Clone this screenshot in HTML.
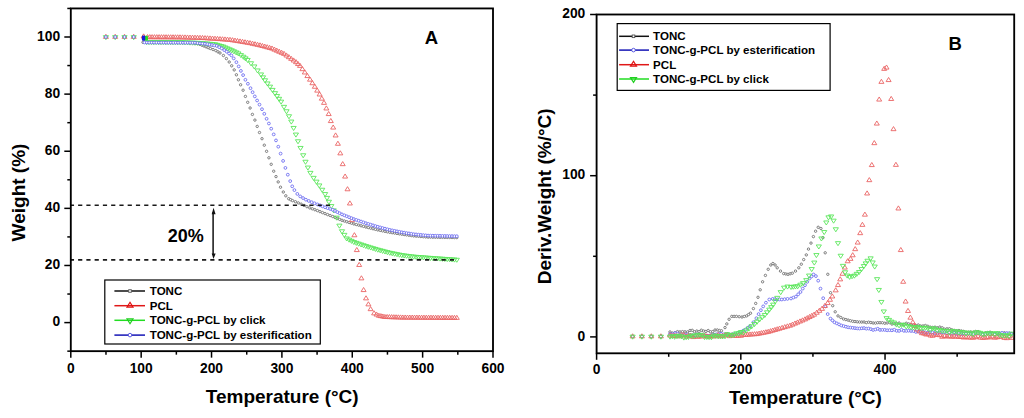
<!DOCTYPE html>
<html><head><meta charset="utf-8"><title>TGA</title>
<style>html,body{margin:0;padding:0;background:#fff;width:1024px;height:418px;overflow:hidden}svg{display:block}</style>
</head><body>
<svg width="1024" height="418" viewBox="0 0 1024 418"><rect width="1024" height="418" fill="#fff"/><g><circle cx="105.90" cy="37.00" r="1.2" fill="#fff" stroke="#707070" stroke-width="0.9"/><circle cx="115.20" cy="37.00" r="1.2" fill="#fff" stroke="#707070" stroke-width="0.9"/><circle cx="124.50" cy="37.00" r="1.2" fill="#fff" stroke="#707070" stroke-width="0.9"/><circle cx="133.70" cy="37.00" r="1.2" fill="#fff" stroke="#707070" stroke-width="0.9"/><circle cx="143.00" cy="42.30" r="1.2" fill="#fff" stroke="#707070" stroke-width="0.9"/><circle cx="145.33" cy="42.31" r="1.2" fill="#fff" stroke="#707070" stroke-width="0.9"/><circle cx="147.67" cy="42.33" r="1.2" fill="#fff" stroke="#707070" stroke-width="0.9"/><circle cx="150.00" cy="42.34" r="1.2" fill="#fff" stroke="#707070" stroke-width="0.9"/><circle cx="152.33" cy="42.36" r="1.2" fill="#fff" stroke="#707070" stroke-width="0.9"/><circle cx="154.67" cy="42.37" r="1.2" fill="#fff" stroke="#707070" stroke-width="0.9"/><circle cx="157.00" cy="42.39" r="1.2" fill="#fff" stroke="#707070" stroke-width="0.9"/><circle cx="159.33" cy="42.40" r="1.2" fill="#fff" stroke="#707070" stroke-width="0.9"/><circle cx="161.67" cy="42.41" r="1.2" fill="#fff" stroke="#707070" stroke-width="0.9"/><circle cx="164.00" cy="42.43" r="1.2" fill="#fff" stroke="#707070" stroke-width="0.9"/><circle cx="166.33" cy="42.44" r="1.2" fill="#fff" stroke="#707070" stroke-width="0.9"/><circle cx="168.67" cy="42.46" r="1.2" fill="#fff" stroke="#707070" stroke-width="0.9"/><circle cx="171.00" cy="42.47" r="1.2" fill="#fff" stroke="#707070" stroke-width="0.9"/><circle cx="173.33" cy="42.49" r="1.2" fill="#fff" stroke="#707070" stroke-width="0.9"/><circle cx="175.67" cy="42.50" r="1.2" fill="#fff" stroke="#707070" stroke-width="0.9"/><circle cx="178.00" cy="42.51" r="1.2" fill="#fff" stroke="#707070" stroke-width="0.9"/><circle cx="180.33" cy="42.53" r="1.2" fill="#fff" stroke="#707070" stroke-width="0.9"/><circle cx="182.67" cy="42.54" r="1.2" fill="#fff" stroke="#707070" stroke-width="0.9"/><circle cx="185.00" cy="42.56" r="1.2" fill="#fff" stroke="#707070" stroke-width="0.9"/><circle cx="187.33" cy="42.57" r="1.2" fill="#fff" stroke="#707070" stroke-width="0.9"/><circle cx="189.67" cy="42.59" r="1.2" fill="#fff" stroke="#707070" stroke-width="0.9"/><circle cx="192.00" cy="42.60" r="1.2" fill="#fff" stroke="#707070" stroke-width="0.9"/><circle cx="194.00" cy="42.93" r="1.2" fill="#fff" stroke="#707070" stroke-width="0.9"/><circle cx="196.00" cy="43.27" r="1.2" fill="#fff" stroke="#707070" stroke-width="0.9"/><circle cx="198.00" cy="43.60" r="1.2" fill="#fff" stroke="#707070" stroke-width="0.9"/><circle cx="200.00" cy="44.40" r="1.2" fill="#fff" stroke="#707070" stroke-width="0.9"/><circle cx="202.00" cy="45.20" r="1.2" fill="#fff" stroke="#707070" stroke-width="0.9"/><circle cx="204.00" cy="46.00" r="1.2" fill="#fff" stroke="#707070" stroke-width="0.9"/><circle cx="206.10" cy="46.83" r="1.2" fill="#fff" stroke="#707070" stroke-width="0.9"/><circle cx="208.20" cy="47.67" r="1.2" fill="#fff" stroke="#707070" stroke-width="0.9"/><circle cx="210.30" cy="48.50" r="1.2" fill="#fff" stroke="#707070" stroke-width="0.9"/><circle cx="213.05" cy="49.55" r="1.2" fill="#fff" stroke="#707070" stroke-width="0.9"/><circle cx="215.80" cy="50.60" r="1.2" fill="#fff" stroke="#707070" stroke-width="0.9"/><circle cx="217.90" cy="51.80" r="1.2" fill="#fff" stroke="#707070" stroke-width="0.9"/><circle cx="220.00" cy="53.00" r="1.2" fill="#fff" stroke="#707070" stroke-width="0.9"/><circle cx="223.40" cy="55.50" r="1.2" fill="#fff" stroke="#707070" stroke-width="0.9"/><circle cx="226.40" cy="58.60" r="1.2" fill="#fff" stroke="#707070" stroke-width="0.9"/><circle cx="229.20" cy="62.00" r="1.2" fill="#fff" stroke="#707070" stroke-width="0.9"/><circle cx="231.70" cy="65.80" r="1.2" fill="#fff" stroke="#707070" stroke-width="0.9"/><circle cx="234.20" cy="69.90" r="1.2" fill="#fff" stroke="#707070" stroke-width="0.9"/><circle cx="236.40" cy="74.80" r="1.2" fill="#fff" stroke="#707070" stroke-width="0.9"/><circle cx="238.40" cy="79.80" r="1.2" fill="#fff" stroke="#707070" stroke-width="0.9"/><circle cx="240.60" cy="84.80" r="1.2" fill="#fff" stroke="#707070" stroke-width="0.9"/><circle cx="243.10" cy="90.20" r="1.2" fill="#fff" stroke="#707070" stroke-width="0.9"/><circle cx="245.40" cy="96.40" r="1.2" fill="#fff" stroke="#707070" stroke-width="0.9"/><circle cx="247.70" cy="102.30" r="1.2" fill="#fff" stroke="#707070" stroke-width="0.9"/><circle cx="250.10" cy="108.00" r="1.2" fill="#fff" stroke="#707070" stroke-width="0.9"/><circle cx="252.40" cy="114.40" r="1.2" fill="#fff" stroke="#707070" stroke-width="0.9"/><circle cx="254.90" cy="120.10" r="1.2" fill="#fff" stroke="#707070" stroke-width="0.9"/><circle cx="257.20" cy="126.40" r="1.2" fill="#fff" stroke="#707070" stroke-width="0.9"/><circle cx="259.50" cy="132.50" r="1.2" fill="#fff" stroke="#707070" stroke-width="0.9"/><circle cx="262.00" cy="138.70" r="1.2" fill="#fff" stroke="#707070" stroke-width="0.9"/><circle cx="264.30" cy="145.20" r="1.2" fill="#fff" stroke="#707070" stroke-width="0.9"/><circle cx="266.60" cy="151.30" r="1.2" fill="#fff" stroke="#707070" stroke-width="0.9"/><circle cx="268.90" cy="157.80" r="1.2" fill="#fff" stroke="#707070" stroke-width="0.9"/><circle cx="271.20" cy="164.30" r="1.2" fill="#fff" stroke="#707070" stroke-width="0.9"/><circle cx="273.70" cy="171.20" r="1.2" fill="#fff" stroke="#707070" stroke-width="0.9"/><circle cx="276.00" cy="176.60" r="1.2" fill="#fff" stroke="#707070" stroke-width="0.9"/><circle cx="278.20" cy="181.90" r="1.2" fill="#fff" stroke="#707070" stroke-width="0.9"/><circle cx="280.50" cy="187.20" r="1.2" fill="#fff" stroke="#707070" stroke-width="0.9"/><circle cx="283.30" cy="192.00" r="1.2" fill="#fff" stroke="#707070" stroke-width="0.9"/><circle cx="285.80" cy="195.80" r="1.2" fill="#fff" stroke="#707070" stroke-width="0.9"/><circle cx="288.70" cy="198.70" r="1.2" fill="#fff" stroke="#707070" stroke-width="0.9"/><circle cx="290.60" cy="199.65" r="1.2" fill="#fff" stroke="#707070" stroke-width="0.9"/><circle cx="292.50" cy="200.60" r="1.2" fill="#fff" stroke="#707070" stroke-width="0.9"/><circle cx="295.40" cy="201.75" r="1.2" fill="#fff" stroke="#707070" stroke-width="0.9"/><circle cx="298.30" cy="202.90" r="1.2" fill="#fff" stroke="#707070" stroke-width="0.9"/><circle cx="301.15" cy="204.15" r="1.2" fill="#fff" stroke="#707070" stroke-width="0.9"/><circle cx="304.00" cy="205.40" r="1.2" fill="#fff" stroke="#707070" stroke-width="0.9"/><circle cx="306.90" cy="206.65" r="1.2" fill="#fff" stroke="#707070" stroke-width="0.9"/><circle cx="309.80" cy="207.90" r="1.2" fill="#fff" stroke="#707070" stroke-width="0.9"/><circle cx="312.33" cy="208.80" r="1.2" fill="#fff" stroke="#707070" stroke-width="0.9"/><circle cx="314.87" cy="209.70" r="1.2" fill="#fff" stroke="#707070" stroke-width="0.9"/><circle cx="317.40" cy="210.60" r="1.2" fill="#fff" stroke="#707070" stroke-width="0.9"/><circle cx="319.93" cy="211.60" r="1.2" fill="#fff" stroke="#707070" stroke-width="0.9"/><circle cx="322.47" cy="212.60" r="1.2" fill="#fff" stroke="#707070" stroke-width="0.9"/><circle cx="325.00" cy="213.60" r="1.2" fill="#fff" stroke="#707070" stroke-width="0.9"/><circle cx="327.57" cy="214.57" r="1.2" fill="#fff" stroke="#707070" stroke-width="0.9"/><circle cx="330.13" cy="215.53" r="1.2" fill="#fff" stroke="#707070" stroke-width="0.9"/><circle cx="332.70" cy="216.50" r="1.2" fill="#fff" stroke="#707070" stroke-width="0.9"/><circle cx="335.02" cy="217.45" r="1.2" fill="#fff" stroke="#707070" stroke-width="0.9"/><circle cx="337.35" cy="218.40" r="1.2" fill="#fff" stroke="#707070" stroke-width="0.9"/><circle cx="339.68" cy="219.35" r="1.2" fill="#fff" stroke="#707070" stroke-width="0.9"/><circle cx="342.00" cy="220.30" r="1.2" fill="#fff" stroke="#707070" stroke-width="0.9"/><circle cx="344.38" cy="221.02" r="1.2" fill="#fff" stroke="#707070" stroke-width="0.9"/><circle cx="346.76" cy="221.74" r="1.2" fill="#fff" stroke="#707070" stroke-width="0.9"/><circle cx="349.14" cy="222.46" r="1.2" fill="#fff" stroke="#707070" stroke-width="0.9"/><circle cx="351.52" cy="223.18" r="1.2" fill="#fff" stroke="#707070" stroke-width="0.9"/><circle cx="353.90" cy="223.90" r="1.2" fill="#fff" stroke="#707070" stroke-width="0.9"/><circle cx="356.30" cy="224.52" r="1.2" fill="#fff" stroke="#707070" stroke-width="0.9"/><circle cx="358.70" cy="225.14" r="1.2" fill="#fff" stroke="#707070" stroke-width="0.9"/><circle cx="361.10" cy="225.76" r="1.2" fill="#fff" stroke="#707070" stroke-width="0.9"/><circle cx="363.50" cy="226.38" r="1.2" fill="#fff" stroke="#707070" stroke-width="0.9"/><circle cx="365.90" cy="227.00" r="1.2" fill="#fff" stroke="#707070" stroke-width="0.9"/><circle cx="368.28" cy="227.58" r="1.2" fill="#fff" stroke="#707070" stroke-width="0.9"/><circle cx="370.66" cy="228.16" r="1.2" fill="#fff" stroke="#707070" stroke-width="0.9"/><circle cx="373.04" cy="228.74" r="1.2" fill="#fff" stroke="#707070" stroke-width="0.9"/><circle cx="375.42" cy="229.32" r="1.2" fill="#fff" stroke="#707070" stroke-width="0.9"/><circle cx="377.80" cy="229.90" r="1.2" fill="#fff" stroke="#707070" stroke-width="0.9"/><circle cx="380.20" cy="230.38" r="1.2" fill="#fff" stroke="#707070" stroke-width="0.9"/><circle cx="382.60" cy="230.86" r="1.2" fill="#fff" stroke="#707070" stroke-width="0.9"/><circle cx="385.00" cy="231.34" r="1.2" fill="#fff" stroke="#707070" stroke-width="0.9"/><circle cx="387.40" cy="231.82" r="1.2" fill="#fff" stroke="#707070" stroke-width="0.9"/><circle cx="389.80" cy="232.30" r="1.2" fill="#fff" stroke="#707070" stroke-width="0.9"/><circle cx="392.20" cy="232.68" r="1.2" fill="#fff" stroke="#707070" stroke-width="0.9"/><circle cx="394.60" cy="233.06" r="1.2" fill="#fff" stroke="#707070" stroke-width="0.9"/><circle cx="397.00" cy="233.44" r="1.2" fill="#fff" stroke="#707070" stroke-width="0.9"/><circle cx="399.40" cy="233.82" r="1.2" fill="#fff" stroke="#707070" stroke-width="0.9"/><circle cx="401.80" cy="234.20" r="1.2" fill="#fff" stroke="#707070" stroke-width="0.9"/><circle cx="404.18" cy="234.54" r="1.2" fill="#fff" stroke="#707070" stroke-width="0.9"/><circle cx="406.56" cy="234.88" r="1.2" fill="#fff" stroke="#707070" stroke-width="0.9"/><circle cx="408.94" cy="235.22" r="1.2" fill="#fff" stroke="#707070" stroke-width="0.9"/><circle cx="411.32" cy="235.56" r="1.2" fill="#fff" stroke="#707070" stroke-width="0.9"/><circle cx="413.70" cy="235.90" r="1.2" fill="#fff" stroke="#707070" stroke-width="0.9"/><circle cx="416.10" cy="236.10" r="1.2" fill="#fff" stroke="#707070" stroke-width="0.9"/><circle cx="418.50" cy="236.30" r="1.2" fill="#fff" stroke="#707070" stroke-width="0.9"/><circle cx="420.90" cy="236.50" r="1.2" fill="#fff" stroke="#707070" stroke-width="0.9"/><circle cx="423.30" cy="236.70" r="1.2" fill="#fff" stroke="#707070" stroke-width="0.9"/><circle cx="425.70" cy="236.90" r="1.2" fill="#fff" stroke="#707070" stroke-width="0.9"/><circle cx="428.10" cy="237.10" r="1.2" fill="#fff" stroke="#707070" stroke-width="0.9"/><circle cx="430.49" cy="237.14" r="1.2" fill="#fff" stroke="#707070" stroke-width="0.9"/><circle cx="432.88" cy="237.18" r="1.2" fill="#fff" stroke="#707070" stroke-width="0.9"/><circle cx="435.28" cy="237.22" r="1.2" fill="#fff" stroke="#707070" stroke-width="0.9"/><circle cx="437.67" cy="237.27" r="1.2" fill="#fff" stroke="#707070" stroke-width="0.9"/><circle cx="440.06" cy="237.31" r="1.2" fill="#fff" stroke="#707070" stroke-width="0.9"/><circle cx="442.45" cy="237.35" r="1.2" fill="#fff" stroke="#707070" stroke-width="0.9"/><circle cx="444.84" cy="237.39" r="1.2" fill="#fff" stroke="#707070" stroke-width="0.9"/><circle cx="447.23" cy="237.43" r="1.2" fill="#fff" stroke="#707070" stroke-width="0.9"/><circle cx="449.62" cy="237.47" r="1.2" fill="#fff" stroke="#707070" stroke-width="0.9"/><circle cx="452.02" cy="237.52" r="1.2" fill="#fff" stroke="#707070" stroke-width="0.9"/><circle cx="454.41" cy="237.56" r="1.2" fill="#fff" stroke="#707070" stroke-width="0.9"/><circle cx="456.80" cy="237.60" r="1.2" fill="#fff" stroke="#707070" stroke-width="0.9"/><path d="M105.90 34.27L108.40 38.37L103.40 38.37Z" fill="none" stroke="#ea6464" stroke-width="0.9"/><path d="M115.20 34.27L117.70 38.37L112.70 38.37Z" fill="none" stroke="#ea6464" stroke-width="0.9"/><path d="M124.50 34.27L127.00 38.37L122.00 38.37Z" fill="none" stroke="#ea6464" stroke-width="0.9"/><path d="M133.70 34.27L136.20 38.37L131.20 38.37Z" fill="none" stroke="#ea6464" stroke-width="0.9"/><path d="M147.50 34.57L150.00 38.67L145.00 38.67Z" fill="none" stroke="#ea6464" stroke-width="0.9"/><path d="M149.82 34.58L152.32 38.68L147.32 38.68Z" fill="none" stroke="#ea6464" stroke-width="0.9"/><path d="M152.14 34.60L154.64 38.70L149.64 38.70Z" fill="none" stroke="#ea6464" stroke-width="0.9"/><path d="M154.46 34.61L156.96 38.71L151.96 38.71Z" fill="none" stroke="#ea6464" stroke-width="0.9"/><path d="M156.79 34.62L159.29 38.72L154.29 38.72Z" fill="none" stroke="#ea6464" stroke-width="0.9"/><path d="M159.11 34.64L161.61 38.74L156.61 38.74Z" fill="none" stroke="#ea6464" stroke-width="0.9"/><path d="M161.43 34.65L163.93 38.75L158.93 38.75Z" fill="none" stroke="#ea6464" stroke-width="0.9"/><path d="M163.75 34.67L166.25 38.77L161.25 38.77Z" fill="none" stroke="#ea6464" stroke-width="0.9"/><path d="M166.07 34.68L168.57 38.78L163.57 38.78Z" fill="none" stroke="#ea6464" stroke-width="0.9"/><path d="M168.39 34.70L170.89 38.80L165.89 38.80Z" fill="none" stroke="#ea6464" stroke-width="0.9"/><path d="M170.71 34.71L173.21 38.81L168.21 38.81Z" fill="none" stroke="#ea6464" stroke-width="0.9"/><path d="M173.04 34.72L175.54 38.82L170.54 38.82Z" fill="none" stroke="#ea6464" stroke-width="0.9"/><path d="M175.36 34.74L177.86 38.84L172.86 38.84Z" fill="none" stroke="#ea6464" stroke-width="0.9"/><path d="M177.68 34.75L180.18 38.85L175.18 38.85Z" fill="none" stroke="#ea6464" stroke-width="0.9"/><path d="M180.00 34.77L182.50 38.87L177.50 38.87Z" fill="none" stroke="#ea6464" stroke-width="0.9"/><path d="M182.50 34.83L185.00 38.93L180.00 38.93Z" fill="none" stroke="#ea6464" stroke-width="0.9"/><path d="M185.00 34.89L187.50 38.99L182.50 38.99Z" fill="none" stroke="#ea6464" stroke-width="0.9"/><path d="M187.50 34.95L190.00 39.05L185.00 39.05Z" fill="none" stroke="#ea6464" stroke-width="0.9"/><path d="M190.00 35.02L192.50 39.12L187.50 39.12Z" fill="none" stroke="#ea6464" stroke-width="0.9"/><path d="M192.50 35.08L195.00 39.18L190.00 39.18Z" fill="none" stroke="#ea6464" stroke-width="0.9"/><path d="M195.00 35.14L197.50 39.24L192.50 39.24Z" fill="none" stroke="#ea6464" stroke-width="0.9"/><path d="M197.50 35.20L200.00 39.30L195.00 39.30Z" fill="none" stroke="#ea6464" stroke-width="0.9"/><path d="M200.00 35.27L202.50 39.37L197.50 39.37Z" fill="none" stroke="#ea6464" stroke-width="0.9"/><path d="M202.50 35.42L205.00 39.52L200.00 39.52Z" fill="none" stroke="#ea6464" stroke-width="0.9"/><path d="M205.00 35.57L207.50 39.67L202.50 39.67Z" fill="none" stroke="#ea6464" stroke-width="0.9"/><path d="M207.50 35.72L210.00 39.82L205.00 39.82Z" fill="none" stroke="#ea6464" stroke-width="0.9"/><path d="M210.00 35.87L212.50 39.97L207.50 39.97Z" fill="none" stroke="#ea6464" stroke-width="0.9"/><path d="M212.50 36.02L215.00 40.12L210.00 40.12Z" fill="none" stroke="#ea6464" stroke-width="0.9"/><path d="M215.00 36.17L217.50 40.27L212.50 40.27Z" fill="none" stroke="#ea6464" stroke-width="0.9"/><path d="M217.50 36.35L220.00 40.45L215.00 40.45Z" fill="none" stroke="#ea6464" stroke-width="0.9"/><path d="M220.00 36.53L222.50 40.63L217.50 40.63Z" fill="none" stroke="#ea6464" stroke-width="0.9"/><path d="M222.50 36.72L225.00 40.82L220.00 40.82Z" fill="none" stroke="#ea6464" stroke-width="0.9"/><path d="M225.00 36.90L227.50 41.00L222.50 41.00Z" fill="none" stroke="#ea6464" stroke-width="0.9"/><path d="M227.50 37.08L230.00 41.18L225.00 41.18Z" fill="none" stroke="#ea6464" stroke-width="0.9"/><path d="M230.00 37.27L232.50 41.37L227.50 41.37Z" fill="none" stroke="#ea6464" stroke-width="0.9"/><path d="M232.50 37.67L235.00 41.77L230.00 41.77Z" fill="none" stroke="#ea6464" stroke-width="0.9"/><path d="M235.00 38.07L237.50 42.17L232.50 42.17Z" fill="none" stroke="#ea6464" stroke-width="0.9"/><path d="M237.50 38.47L240.00 42.57L235.00 42.57Z" fill="none" stroke="#ea6464" stroke-width="0.9"/><path d="M240.00 38.87L242.50 42.97L237.50 42.97Z" fill="none" stroke="#ea6464" stroke-width="0.9"/><path d="M242.50 39.29L245.00 43.39L240.00 43.39Z" fill="none" stroke="#ea6464" stroke-width="0.9"/><path d="M245.00 39.72L247.50 43.82L242.50 43.82Z" fill="none" stroke="#ea6464" stroke-width="0.9"/><path d="M247.50 40.14L250.00 44.24L245.00 44.24Z" fill="none" stroke="#ea6464" stroke-width="0.9"/><path d="M250.00 40.57L252.50 44.67L247.50 44.67Z" fill="none" stroke="#ea6464" stroke-width="0.9"/><path d="M252.50 41.12L255.00 45.22L250.00 45.22Z" fill="none" stroke="#ea6464" stroke-width="0.9"/><path d="M255.00 41.67L257.50 45.77L252.50 45.77Z" fill="none" stroke="#ea6464" stroke-width="0.9"/><path d="M257.50 42.22L260.00 46.32L255.00 46.32Z" fill="none" stroke="#ea6464" stroke-width="0.9"/><path d="M260.00 42.77L262.50 46.87L257.50 46.87Z" fill="none" stroke="#ea6464" stroke-width="0.9"/><path d="M262.40 43.41L264.90 47.51L259.90 47.51Z" fill="none" stroke="#ea6464" stroke-width="0.9"/><path d="M264.80 44.05L267.30 48.15L262.30 48.15Z" fill="none" stroke="#ea6464" stroke-width="0.9"/><path d="M267.20 44.69L269.70 48.79L264.70 48.79Z" fill="none" stroke="#ea6464" stroke-width="0.9"/><path d="M269.60 45.33L272.10 49.43L267.10 49.43Z" fill="none" stroke="#ea6464" stroke-width="0.9"/><path d="M272.00 45.97L274.50 50.07L269.50 50.07Z" fill="none" stroke="#ea6464" stroke-width="0.9"/><path d="M274.40 47.03L276.90 51.13L271.90 51.13Z" fill="none" stroke="#ea6464" stroke-width="0.9"/><path d="M276.80 48.09L279.30 52.19L274.30 52.19Z" fill="none" stroke="#ea6464" stroke-width="0.9"/><path d="M279.20 49.15L281.70 53.25L276.70 53.25Z" fill="none" stroke="#ea6464" stroke-width="0.9"/><path d="M281.60 50.21L284.10 54.31L279.10 54.31Z" fill="none" stroke="#ea6464" stroke-width="0.9"/><path d="M284.00 51.27L286.50 55.37L281.50 55.37Z" fill="none" stroke="#ea6464" stroke-width="0.9"/><path d="M286.40 52.93L288.90 57.03L283.90 57.03Z" fill="none" stroke="#ea6464" stroke-width="0.9"/><path d="M288.80 54.59L291.30 58.69L286.30 58.69Z" fill="none" stroke="#ea6464" stroke-width="0.9"/><path d="M291.20 56.25L293.70 60.35L288.70 60.35Z" fill="none" stroke="#ea6464" stroke-width="0.9"/><path d="M293.60 57.91L296.10 62.01L291.10 62.01Z" fill="none" stroke="#ea6464" stroke-width="0.9"/><path d="M296.00 59.57L298.50 63.67L293.50 63.67Z" fill="none" stroke="#ea6464" stroke-width="0.9"/><path d="M298.00 61.42L300.50 65.52L295.50 65.52Z" fill="none" stroke="#ea6464" stroke-width="0.9"/><path d="M300.00 63.27L302.50 67.37L297.50 67.37Z" fill="none" stroke="#ea6464" stroke-width="0.9"/><path d="M302.40 66.57L304.90 70.67L299.90 70.67Z" fill="none" stroke="#ea6464" stroke-width="0.9"/><path d="M304.80 69.87L307.30 73.97L302.30 73.97Z" fill="none" stroke="#ea6464" stroke-width="0.9"/><path d="M307.40 73.47L309.90 77.57L304.90 77.57Z" fill="none" stroke="#ea6464" stroke-width="0.9"/><path d="M310.00 77.07L312.50 81.17L307.50 81.17Z" fill="none" stroke="#ea6464" stroke-width="0.9"/><path d="M312.40 80.62L314.90 84.72L309.90 84.72Z" fill="none" stroke="#ea6464" stroke-width="0.9"/><path d="M314.80 84.17L317.30 88.27L312.30 88.27Z" fill="none" stroke="#ea6464" stroke-width="0.9"/><path d="M317.20 88.02L319.70 92.12L314.70 92.12Z" fill="none" stroke="#ea6464" stroke-width="0.9"/><path d="M319.60 91.87L322.10 95.97L317.10 95.97Z" fill="none" stroke="#ea6464" stroke-width="0.9"/><path d="M321.80 96.07L324.30 100.17L319.30 100.17Z" fill="none" stroke="#ea6464" stroke-width="0.9"/><path d="M324.00 100.27L326.50 104.37L321.50 104.37Z" fill="none" stroke="#ea6464" stroke-width="0.9"/><path d="M326.35 105.87L328.85 109.97L323.85 109.97Z" fill="none" stroke="#ea6464" stroke-width="0.9"/><path d="M328.70 111.47L331.20 115.57L326.20 115.57Z" fill="none" stroke="#ea6464" stroke-width="0.9"/><path d="M330.80 118.47L333.30 122.57L328.30 122.57Z" fill="none" stroke="#ea6464" stroke-width="0.9"/><path d="M333.20 124.97L335.70 129.07L330.70 129.07Z" fill="none" stroke="#ea6464" stroke-width="0.9"/><path d="M335.60 132.87L338.10 136.97L333.10 136.97Z" fill="none" stroke="#ea6464" stroke-width="0.9"/><path d="M337.90 141.17L340.40 145.27L335.40 145.27Z" fill="none" stroke="#ea6464" stroke-width="0.9"/><path d="M340.30 150.77L342.80 154.87L337.80 154.87Z" fill="none" stroke="#ea6464" stroke-width="0.9"/><path d="M342.70 161.57L345.20 165.67L340.20 165.67Z" fill="none" stroke="#ea6464" stroke-width="0.9"/><path d="M345.10 173.97L347.60 178.07L342.60 178.07Z" fill="none" stroke="#ea6464" stroke-width="0.9"/><path d="M347.50 186.67L350.00 190.77L345.00 190.77Z" fill="none" stroke="#ea6464" stroke-width="0.9"/><path d="M349.90 200.87L352.40 204.97L347.40 204.97Z" fill="none" stroke="#ea6464" stroke-width="0.9"/><path d="M352.00 217.57L354.50 221.67L349.50 221.67Z" fill="none" stroke="#ea6464" stroke-width="0.9"/><path d="M354.40 232.67L356.90 236.77L351.90 236.77Z" fill="none" stroke="#ea6464" stroke-width="0.9"/><path d="M356.80 247.47L359.30 251.57L354.30 251.57Z" fill="none" stroke="#ea6464" stroke-width="0.9"/><path d="M359.20 262.37L361.70 266.47L356.70 266.47Z" fill="none" stroke="#ea6464" stroke-width="0.9"/><path d="M361.40 275.77L363.90 279.87L358.90 279.87Z" fill="none" stroke="#ea6464" stroke-width="0.9"/><path d="M363.60 287.47L366.10 291.57L361.10 291.57Z" fill="none" stroke="#ea6464" stroke-width="0.9"/><path d="M366.00 295.77L368.50 299.87L363.50 299.87Z" fill="none" stroke="#ea6464" stroke-width="0.9"/><path d="M368.40 301.77L370.90 305.87L365.90 305.87Z" fill="none" stroke="#ea6464" stroke-width="0.9"/><path d="M370.60 306.57L373.10 310.67L368.10 310.67Z" fill="none" stroke="#ea6464" stroke-width="0.9"/><path d="M374.10 310.77L376.60 314.87L371.60 314.87Z" fill="none" stroke="#ea6464" stroke-width="0.9"/><path d="M376.50 311.97L379.00 316.07L374.00 316.07Z" fill="none" stroke="#ea6464" stroke-width="0.9"/><path d="M378.90 313.17L381.40 317.27L376.40 317.27Z" fill="none" stroke="#ea6464" stroke-width="0.9"/><path d="M380.90 313.57L383.40 317.67L378.40 317.67Z" fill="none" stroke="#ea6464" stroke-width="0.9"/><path d="M382.90 313.97L385.40 318.07L380.40 318.07Z" fill="none" stroke="#ea6464" stroke-width="0.9"/><path d="M384.90 314.37L387.40 318.47L382.40 318.47Z" fill="none" stroke="#ea6464" stroke-width="0.9"/><path d="M387.14 314.44L389.64 318.54L384.64 318.54Z" fill="none" stroke="#ea6464" stroke-width="0.9"/><path d="M389.38 314.52L391.88 318.62L386.88 318.62Z" fill="none" stroke="#ea6464" stroke-width="0.9"/><path d="M391.61 314.59L394.11 318.69L389.11 318.69Z" fill="none" stroke="#ea6464" stroke-width="0.9"/><path d="M393.85 314.67L396.35 318.77L391.35 318.77Z" fill="none" stroke="#ea6464" stroke-width="0.9"/><path d="M396.09 314.74L398.59 318.84L393.59 318.84Z" fill="none" stroke="#ea6464" stroke-width="0.9"/><path d="M398.32 314.82L400.82 318.92L395.82 318.92Z" fill="none" stroke="#ea6464" stroke-width="0.9"/><path d="M400.56 314.89L403.06 318.99L398.06 318.99Z" fill="none" stroke="#ea6464" stroke-width="0.9"/><path d="M402.80 314.97L405.30 319.07L400.30 319.07Z" fill="none" stroke="#ea6464" stroke-width="0.9"/><path d="M405.15 314.98L407.65 319.08L402.65 319.08Z" fill="none" stroke="#ea6464" stroke-width="0.9"/><path d="M407.50 314.99L410.00 319.09L405.00 319.09Z" fill="none" stroke="#ea6464" stroke-width="0.9"/><path d="M409.84 315.01L412.34 319.11L407.34 319.11Z" fill="none" stroke="#ea6464" stroke-width="0.9"/><path d="M412.19 315.02L414.69 319.12L409.69 319.12Z" fill="none" stroke="#ea6464" stroke-width="0.9"/><path d="M414.54 315.03L417.04 319.13L412.04 319.13Z" fill="none" stroke="#ea6464" stroke-width="0.9"/><path d="M416.89 315.04L419.39 319.14L414.39 319.14Z" fill="none" stroke="#ea6464" stroke-width="0.9"/><path d="M419.23 315.06L421.73 319.16L416.73 319.16Z" fill="none" stroke="#ea6464" stroke-width="0.9"/><path d="M421.58 315.07L424.08 319.17L419.08 319.17Z" fill="none" stroke="#ea6464" stroke-width="0.9"/><path d="M423.93 315.08L426.43 319.18L421.43 319.18Z" fill="none" stroke="#ea6464" stroke-width="0.9"/><path d="M426.28 315.10L428.78 319.20L423.78 319.20Z" fill="none" stroke="#ea6464" stroke-width="0.9"/><path d="M428.63 315.11L431.13 319.21L426.13 319.21Z" fill="none" stroke="#ea6464" stroke-width="0.9"/><path d="M430.97 315.12L433.47 319.22L428.47 319.22Z" fill="none" stroke="#ea6464" stroke-width="0.9"/><path d="M433.32 315.14L435.82 319.24L430.82 319.24Z" fill="none" stroke="#ea6464" stroke-width="0.9"/><path d="M435.67 315.15L438.17 319.25L433.17 319.25Z" fill="none" stroke="#ea6464" stroke-width="0.9"/><path d="M438.02 315.16L440.52 319.26L435.52 319.26Z" fill="none" stroke="#ea6464" stroke-width="0.9"/><path d="M440.37 315.18L442.87 319.28L437.87 319.28Z" fill="none" stroke="#ea6464" stroke-width="0.9"/><path d="M442.71 315.19L445.21 319.29L440.21 319.29Z" fill="none" stroke="#ea6464" stroke-width="0.9"/><path d="M445.06 315.20L447.56 319.30L442.56 319.30Z" fill="none" stroke="#ea6464" stroke-width="0.9"/><path d="M447.41 315.21L449.91 319.31L444.91 319.31Z" fill="none" stroke="#ea6464" stroke-width="0.9"/><path d="M449.76 315.23L452.26 319.33L447.26 319.33Z" fill="none" stroke="#ea6464" stroke-width="0.9"/><path d="M452.10 315.24L454.60 319.34L449.60 319.34Z" fill="none" stroke="#ea6464" stroke-width="0.9"/><path d="M454.45 315.25L456.95 319.35L451.95 319.35Z" fill="none" stroke="#ea6464" stroke-width="0.9"/><path d="M456.80 315.27L459.30 319.37L454.30 319.37Z" fill="none" stroke="#ea6464" stroke-width="0.9"/><path d="M105.90 39.70L108.50 35.65L103.30 35.65Z" fill="none" stroke="#5ae65a" stroke-width="0.9"/><path d="M115.20 39.70L117.80 35.65L112.60 35.65Z" fill="none" stroke="#5ae65a" stroke-width="0.9"/><path d="M124.50 39.70L127.10 35.65L121.90 35.65Z" fill="none" stroke="#5ae65a" stroke-width="0.9"/><path d="M133.70 39.70L136.30 35.65L131.10 35.65Z" fill="none" stroke="#5ae65a" stroke-width="0.9"/><path d="M146.50 44.60L149.10 40.55L143.90 40.55Z" fill="none" stroke="#5ae65a" stroke-width="0.9"/><path d="M148.89 44.61L151.49 40.56L146.29 40.56Z" fill="none" stroke="#5ae65a" stroke-width="0.9"/><path d="M151.29 44.62L153.89 40.56L148.69 40.56Z" fill="none" stroke="#5ae65a" stroke-width="0.9"/><path d="M153.68 44.63L156.28 40.57L151.08 40.57Z" fill="none" stroke="#5ae65a" stroke-width="0.9"/><path d="M156.07 44.63L158.67 40.58L153.47 40.58Z" fill="none" stroke="#5ae65a" stroke-width="0.9"/><path d="M158.46 44.64L161.06 40.58L155.86 40.58Z" fill="none" stroke="#5ae65a" stroke-width="0.9"/><path d="M160.86 44.65L163.46 40.59L158.26 40.59Z" fill="none" stroke="#5ae65a" stroke-width="0.9"/><path d="M163.25 44.65L165.85 40.60L160.65 40.60Z" fill="none" stroke="#5ae65a" stroke-width="0.9"/><path d="M165.64 44.66L168.24 40.61L163.04 40.61Z" fill="none" stroke="#5ae65a" stroke-width="0.9"/><path d="M168.04 44.67L170.64 40.61L165.44 40.61Z" fill="none" stroke="#5ae65a" stroke-width="0.9"/><path d="M170.43 44.68L173.03 40.62L167.83 40.62Z" fill="none" stroke="#5ae65a" stroke-width="0.9"/><path d="M172.82 44.68L175.42 40.63L170.22 40.63Z" fill="none" stroke="#5ae65a" stroke-width="0.9"/><path d="M175.21 44.69L177.81 40.63L172.61 40.63Z" fill="none" stroke="#5ae65a" stroke-width="0.9"/><path d="M177.61 44.70L180.21 40.64L175.01 40.64Z" fill="none" stroke="#5ae65a" stroke-width="0.9"/><path d="M180.00 44.70L182.60 40.65L177.40 40.65Z" fill="none" stroke="#5ae65a" stroke-width="0.9"/><path d="M182.50 44.80L185.10 40.75L179.90 40.75Z" fill="none" stroke="#5ae65a" stroke-width="0.9"/><path d="M185.00 44.90L187.60 40.85L182.40 40.85Z" fill="none" stroke="#5ae65a" stroke-width="0.9"/><path d="M187.50 45.00L190.10 40.95L184.90 40.95Z" fill="none" stroke="#5ae65a" stroke-width="0.9"/><path d="M190.00 45.10L192.60 41.05L187.40 41.05Z" fill="none" stroke="#5ae65a" stroke-width="0.9"/><path d="M192.50 45.20L195.10 41.15L189.90 41.15Z" fill="none" stroke="#5ae65a" stroke-width="0.9"/><path d="M195.00 45.30L197.60 41.25L192.40 41.25Z" fill="none" stroke="#5ae65a" stroke-width="0.9"/><path d="M197.50 45.40L200.10 41.35L194.90 41.35Z" fill="none" stroke="#5ae65a" stroke-width="0.9"/><path d="M200.00 45.50L202.60 41.45L197.40 41.45Z" fill="none" stroke="#5ae65a" stroke-width="0.9"/><path d="M202.50 45.72L205.10 41.66L199.90 41.66Z" fill="none" stroke="#5ae65a" stroke-width="0.9"/><path d="M205.00 45.94L207.60 41.88L202.40 41.88Z" fill="none" stroke="#5ae65a" stroke-width="0.9"/><path d="M207.50 46.15L210.10 42.10L204.90 42.10Z" fill="none" stroke="#5ae65a" stroke-width="0.9"/><path d="M210.00 46.37L212.60 42.31L207.40 42.31Z" fill="none" stroke="#5ae65a" stroke-width="0.9"/><path d="M212.50 46.59L215.10 42.53L209.90 42.53Z" fill="none" stroke="#5ae65a" stroke-width="0.9"/><path d="M215.00 46.80L217.60 42.75L212.40 42.75Z" fill="none" stroke="#5ae65a" stroke-width="0.9"/><path d="M217.10 47.40L219.70 43.35L214.50 43.35Z" fill="none" stroke="#5ae65a" stroke-width="0.9"/><path d="M219.20 48.00L221.80 43.95L216.60 43.95Z" fill="none" stroke="#5ae65a" stroke-width="0.9"/><path d="M221.30 48.60L223.90 44.55L218.70 44.55Z" fill="none" stroke="#5ae65a" stroke-width="0.9"/><path d="M223.40 49.20L226.00 45.15L220.80 45.15Z" fill="none" stroke="#5ae65a" stroke-width="0.9"/><path d="M225.47 50.10L228.07 46.05L222.88 46.05Z" fill="none" stroke="#5ae65a" stroke-width="0.9"/><path d="M227.55 51.00L230.15 46.95L224.95 46.95Z" fill="none" stroke="#5ae65a" stroke-width="0.9"/><path d="M229.62 51.90L232.22 47.85L227.03 47.85Z" fill="none" stroke="#5ae65a" stroke-width="0.9"/><path d="M231.70 52.80L234.30 48.75L229.10 48.75Z" fill="none" stroke="#5ae65a" stroke-width="0.9"/><path d="M233.93 53.87L236.53 49.81L231.33 49.81Z" fill="none" stroke="#5ae65a" stroke-width="0.9"/><path d="M236.17 54.94L238.77 50.88L233.57 50.88Z" fill="none" stroke="#5ae65a" stroke-width="0.9"/><path d="M238.40 56.00L241.00 51.95L235.80 51.95Z" fill="none" stroke="#5ae65a" stroke-width="0.9"/><path d="M240.90 57.65L243.50 53.60L238.30 53.60Z" fill="none" stroke="#5ae65a" stroke-width="0.9"/><path d="M243.40 59.30L246.00 55.25L240.80 55.25Z" fill="none" stroke="#5ae65a" stroke-width="0.9"/><path d="M245.50 60.90L248.10 56.85L242.90 56.85Z" fill="none" stroke="#5ae65a" stroke-width="0.9"/><path d="M247.60 62.50L250.20 58.45L245.00 58.45Z" fill="none" stroke="#5ae65a" stroke-width="0.9"/><path d="M251.00 65.80L253.60 61.75L248.40 61.75Z" fill="none" stroke="#5ae65a" stroke-width="0.9"/><path d="M254.30 69.00L256.90 64.95L251.70 64.95Z" fill="none" stroke="#5ae65a" stroke-width="0.9"/><path d="M257.60 73.00L260.20 68.95L255.00 68.95Z" fill="none" stroke="#5ae65a" stroke-width="0.9"/><path d="M261.00 77.00L263.60 72.95L258.40 72.95Z" fill="none" stroke="#5ae65a" stroke-width="0.9"/><path d="M263.00 79.90L265.60 75.85L260.40 75.85Z" fill="none" stroke="#5ae65a" stroke-width="0.9"/><path d="M265.00 82.80L267.60 78.75L262.40 78.75Z" fill="none" stroke="#5ae65a" stroke-width="0.9"/><path d="M267.50 86.00L270.10 81.95L264.90 81.95Z" fill="none" stroke="#5ae65a" stroke-width="0.9"/><path d="M270.00 89.20L272.60 85.15L267.40 85.15Z" fill="none" stroke="#5ae65a" stroke-width="0.9"/><path d="M272.50 92.45L275.10 88.40L269.90 88.40Z" fill="none" stroke="#5ae65a" stroke-width="0.9"/><path d="M275.00 95.70L277.60 91.65L272.40 91.65Z" fill="none" stroke="#5ae65a" stroke-width="0.9"/><path d="M277.03 98.54L279.63 94.48L274.43 94.48Z" fill="none" stroke="#5ae65a" stroke-width="0.9"/><path d="M279.07 101.37L281.67 97.31L276.47 97.31Z" fill="none" stroke="#5ae65a" stroke-width="0.9"/><path d="M281.10 104.20L283.70 100.15L278.50 100.15Z" fill="none" stroke="#5ae65a" stroke-width="0.9"/><path d="M284.00 109.40L286.60 105.35L281.40 105.35Z" fill="none" stroke="#5ae65a" stroke-width="0.9"/><path d="M286.50 113.80L289.10 109.75L283.90 109.75Z" fill="none" stroke="#5ae65a" stroke-width="0.9"/><path d="M289.00 118.80L291.60 114.75L286.40 114.75Z" fill="none" stroke="#5ae65a" stroke-width="0.9"/><path d="M291.30 124.10L293.90 120.05L288.70 120.05Z" fill="none" stroke="#5ae65a" stroke-width="0.9"/><path d="M293.60 130.50L296.20 126.45L291.00 126.45Z" fill="none" stroke="#5ae65a" stroke-width="0.9"/><path d="M295.90 137.10L298.50 133.05L293.30 133.05Z" fill="none" stroke="#5ae65a" stroke-width="0.9"/><path d="M298.00 143.80L300.60 139.75L295.40 139.75Z" fill="none" stroke="#5ae65a" stroke-width="0.9"/><path d="M300.50 150.50L303.10 146.45L297.90 146.45Z" fill="none" stroke="#5ae65a" stroke-width="0.9"/><path d="M303.20 157.80L305.80 153.75L300.60 153.75Z" fill="none" stroke="#5ae65a" stroke-width="0.9"/><path d="M305.50 164.30L308.10 160.25L302.90 160.25Z" fill="none" stroke="#5ae65a" stroke-width="0.9"/><path d="M307.90 170.10L310.50 166.05L305.30 166.05Z" fill="none" stroke="#5ae65a" stroke-width="0.9"/><path d="M310.40 175.40L313.00 171.35L307.80 171.35Z" fill="none" stroke="#5ae65a" stroke-width="0.9"/><path d="M313.60 180.40L316.20 176.35L311.00 176.35Z" fill="none" stroke="#5ae65a" stroke-width="0.9"/><path d="M316.45 184.20L319.05 180.15L313.85 180.15Z" fill="none" stroke="#5ae65a" stroke-width="0.9"/><path d="M319.30 188.00L321.90 183.95L316.70 183.95Z" fill="none" stroke="#5ae65a" stroke-width="0.9"/><path d="M322.20 192.30L324.80 188.25L319.60 188.25Z" fill="none" stroke="#5ae65a" stroke-width="0.9"/><path d="M325.10 196.60L327.70 192.55L322.50 192.55Z" fill="none" stroke="#5ae65a" stroke-width="0.9"/><path d="M327.00 200.45L329.60 196.40L324.40 196.40Z" fill="none" stroke="#5ae65a" stroke-width="0.9"/><path d="M328.90 204.30L331.50 200.25L326.30 200.25Z" fill="none" stroke="#5ae65a" stroke-width="0.9"/><path d="M331.30 208.60L333.90 204.55L328.70 204.55Z" fill="none" stroke="#5ae65a" stroke-width="0.9"/><path d="M333.70 212.90L336.30 208.85L331.10 208.85Z" fill="none" stroke="#5ae65a" stroke-width="0.9"/><path d="M336.60 220.20L339.20 216.15L334.00 216.15Z" fill="none" stroke="#5ae65a" stroke-width="0.9"/><path d="M339.40 228.20L342.00 224.15L336.80 224.15Z" fill="none" stroke="#5ae65a" stroke-width="0.9"/><path d="M342.00 233.80L344.60 229.75L339.40 229.75Z" fill="none" stroke="#5ae65a" stroke-width="0.9"/><path d="M344.35 237.40L346.95 233.35L341.75 233.35Z" fill="none" stroke="#5ae65a" stroke-width="0.9"/><path d="M346.70 241.00L349.30 236.95L344.10 236.95Z" fill="none" stroke="#5ae65a" stroke-width="0.9"/><path d="M349.10 242.20L351.70 238.15L346.50 238.15Z" fill="none" stroke="#5ae65a" stroke-width="0.9"/><path d="M351.50 243.40L354.10 239.35L348.90 239.35Z" fill="none" stroke="#5ae65a" stroke-width="0.9"/><path d="M353.90 244.60L356.50 240.55L351.30 240.55Z" fill="none" stroke="#5ae65a" stroke-width="0.9"/><path d="M356.30 245.40L358.90 241.35L353.70 241.35Z" fill="none" stroke="#5ae65a" stroke-width="0.9"/><path d="M358.70 246.20L361.30 242.15L356.10 242.15Z" fill="none" stroke="#5ae65a" stroke-width="0.9"/><path d="M361.10 247.00L363.70 242.95L358.50 242.95Z" fill="none" stroke="#5ae65a" stroke-width="0.9"/><path d="M363.50 247.80L366.10 243.75L360.90 243.75Z" fill="none" stroke="#5ae65a" stroke-width="0.9"/><path d="M365.90 248.60L368.50 244.55L363.30 244.55Z" fill="none" stroke="#5ae65a" stroke-width="0.9"/><path d="M368.28 249.32L370.88 245.27L365.68 245.27Z" fill="none" stroke="#5ae65a" stroke-width="0.9"/><path d="M370.66 250.04L373.26 245.99L368.06 245.99Z" fill="none" stroke="#5ae65a" stroke-width="0.9"/><path d="M373.04 250.76L375.64 246.71L370.44 246.71Z" fill="none" stroke="#5ae65a" stroke-width="0.9"/><path d="M375.42 251.48L378.02 247.43L372.82 247.43Z" fill="none" stroke="#5ae65a" stroke-width="0.9"/><path d="M377.80 252.20L380.40 248.15L375.20 248.15Z" fill="none" stroke="#5ae65a" stroke-width="0.9"/><path d="M380.20 252.82L382.80 248.77L377.60 248.77Z" fill="none" stroke="#5ae65a" stroke-width="0.9"/><path d="M382.60 253.44L385.20 249.39L380.00 249.39Z" fill="none" stroke="#5ae65a" stroke-width="0.9"/><path d="M385.00 254.06L387.60 250.01L382.40 250.01Z" fill="none" stroke="#5ae65a" stroke-width="0.9"/><path d="M387.40 254.68L390.00 250.63L384.80 250.63Z" fill="none" stroke="#5ae65a" stroke-width="0.9"/><path d="M389.80 255.30L392.40 251.25L387.20 251.25Z" fill="none" stroke="#5ae65a" stroke-width="0.9"/><path d="M392.20 255.78L394.80 251.73L389.60 251.73Z" fill="none" stroke="#5ae65a" stroke-width="0.9"/><path d="M394.60 256.26L397.20 252.21L392.00 252.21Z" fill="none" stroke="#5ae65a" stroke-width="0.9"/><path d="M397.00 256.74L399.60 252.69L394.40 252.69Z" fill="none" stroke="#5ae65a" stroke-width="0.9"/><path d="M399.40 257.22L402.00 253.17L396.80 253.17Z" fill="none" stroke="#5ae65a" stroke-width="0.9"/><path d="M401.80 257.70L404.40 253.65L399.20 253.65Z" fill="none" stroke="#5ae65a" stroke-width="0.9"/><path d="M404.18 258.00L406.78 253.95L401.58 253.95Z" fill="none" stroke="#5ae65a" stroke-width="0.9"/><path d="M406.56 258.30L409.16 254.25L403.96 254.25Z" fill="none" stroke="#5ae65a" stroke-width="0.9"/><path d="M408.94 258.60L411.54 254.55L406.34 254.55Z" fill="none" stroke="#5ae65a" stroke-width="0.9"/><path d="M411.32 258.90L413.92 254.85L408.72 254.85Z" fill="none" stroke="#5ae65a" stroke-width="0.9"/><path d="M413.70 259.20L416.30 255.15L411.10 255.15Z" fill="none" stroke="#5ae65a" stroke-width="0.9"/><path d="M416.10 259.39L418.70 255.33L413.50 255.33Z" fill="none" stroke="#5ae65a" stroke-width="0.9"/><path d="M418.50 259.57L421.10 255.51L415.90 255.51Z" fill="none" stroke="#5ae65a" stroke-width="0.9"/><path d="M420.90 259.75L423.50 255.70L418.30 255.70Z" fill="none" stroke="#5ae65a" stroke-width="0.9"/><path d="M423.30 259.94L425.90 255.88L420.70 255.88Z" fill="none" stroke="#5ae65a" stroke-width="0.9"/><path d="M425.70 260.12L428.30 256.06L423.10 256.06Z" fill="none" stroke="#5ae65a" stroke-width="0.9"/><path d="M428.10 260.30L430.70 256.25L425.50 256.25Z" fill="none" stroke="#5ae65a" stroke-width="0.9"/><path d="M430.49 260.47L433.09 256.41L427.89 256.41Z" fill="none" stroke="#5ae65a" stroke-width="0.9"/><path d="M432.88 260.64L435.48 256.58L430.28 256.58Z" fill="none" stroke="#5ae65a" stroke-width="0.9"/><path d="M435.28 260.80L437.88 256.75L432.68 256.75Z" fill="none" stroke="#5ae65a" stroke-width="0.9"/><path d="M437.67 260.97L440.27 256.91L435.07 256.91Z" fill="none" stroke="#5ae65a" stroke-width="0.9"/><path d="M440.06 261.14L442.66 257.08L437.46 257.08Z" fill="none" stroke="#5ae65a" stroke-width="0.9"/><path d="M442.45 261.30L445.05 257.25L439.85 257.25Z" fill="none" stroke="#5ae65a" stroke-width="0.9"/><path d="M444.84 261.47L447.44 257.41L442.24 257.41Z" fill="none" stroke="#5ae65a" stroke-width="0.9"/><path d="M447.23 261.64L449.83 257.58L444.63 257.58Z" fill="none" stroke="#5ae65a" stroke-width="0.9"/><path d="M449.62 261.80L452.23 257.75L447.02 257.75Z" fill="none" stroke="#5ae65a" stroke-width="0.9"/><path d="M452.02 261.97L454.62 257.91L449.42 257.91Z" fill="none" stroke="#5ae65a" stroke-width="0.9"/><path d="M454.41 262.14L457.01 258.08L451.81 258.08Z" fill="none" stroke="#5ae65a" stroke-width="0.9"/><path d="M456.80 262.30L459.40 258.25L454.20 258.25Z" fill="none" stroke="#5ae65a" stroke-width="0.9"/><circle cx="105.90" cy="37.00" r="1.4" fill="#fff" stroke="#6868f0" stroke-width="0.85"/><circle cx="115.20" cy="37.00" r="1.4" fill="#fff" stroke="#6868f0" stroke-width="0.85"/><circle cx="124.50" cy="37.00" r="1.4" fill="#fff" stroke="#6868f0" stroke-width="0.85"/><circle cx="133.70" cy="37.00" r="1.4" fill="#fff" stroke="#6868f0" stroke-width="0.85"/><circle cx="144.50" cy="42.50" r="1.4" fill="#fff" stroke="#6868f0" stroke-width="0.85"/><circle cx="146.90" cy="42.51" r="1.4" fill="#fff" stroke="#6868f0" stroke-width="0.85"/><circle cx="149.31" cy="42.53" r="1.4" fill="#fff" stroke="#6868f0" stroke-width="0.85"/><circle cx="151.71" cy="42.54" r="1.4" fill="#fff" stroke="#6868f0" stroke-width="0.85"/><circle cx="154.12" cy="42.56" r="1.4" fill="#fff" stroke="#6868f0" stroke-width="0.85"/><circle cx="156.52" cy="42.57" r="1.4" fill="#fff" stroke="#6868f0" stroke-width="0.85"/><circle cx="158.93" cy="42.59" r="1.4" fill="#fff" stroke="#6868f0" stroke-width="0.85"/><circle cx="161.33" cy="42.60" r="1.4" fill="#fff" stroke="#6868f0" stroke-width="0.85"/><circle cx="163.74" cy="42.61" r="1.4" fill="#fff" stroke="#6868f0" stroke-width="0.85"/><circle cx="166.14" cy="42.63" r="1.4" fill="#fff" stroke="#6868f0" stroke-width="0.85"/><circle cx="168.55" cy="42.64" r="1.4" fill="#fff" stroke="#6868f0" stroke-width="0.85"/><circle cx="170.95" cy="42.66" r="1.4" fill="#fff" stroke="#6868f0" stroke-width="0.85"/><circle cx="173.36" cy="42.67" r="1.4" fill="#fff" stroke="#6868f0" stroke-width="0.85"/><circle cx="175.76" cy="42.69" r="1.4" fill="#fff" stroke="#6868f0" stroke-width="0.85"/><circle cx="178.17" cy="42.70" r="1.4" fill="#fff" stroke="#6868f0" stroke-width="0.85"/><circle cx="180.57" cy="42.71" r="1.4" fill="#fff" stroke="#6868f0" stroke-width="0.85"/><circle cx="182.98" cy="42.73" r="1.4" fill="#fff" stroke="#6868f0" stroke-width="0.85"/><circle cx="185.38" cy="42.74" r="1.4" fill="#fff" stroke="#6868f0" stroke-width="0.85"/><circle cx="187.79" cy="42.76" r="1.4" fill="#fff" stroke="#6868f0" stroke-width="0.85"/><circle cx="190.19" cy="42.77" r="1.4" fill="#fff" stroke="#6868f0" stroke-width="0.85"/><circle cx="192.60" cy="42.79" r="1.4" fill="#fff" stroke="#6868f0" stroke-width="0.85"/><circle cx="195.00" cy="42.80" r="1.4" fill="#fff" stroke="#6868f0" stroke-width="0.85"/><circle cx="197.50" cy="43.05" r="1.4" fill="#fff" stroke="#6868f0" stroke-width="0.85"/><circle cx="200.00" cy="43.30" r="1.4" fill="#fff" stroke="#6868f0" stroke-width="0.85"/><circle cx="202.50" cy="43.55" r="1.4" fill="#fff" stroke="#6868f0" stroke-width="0.85"/><circle cx="205.00" cy="43.80" r="1.4" fill="#fff" stroke="#6868f0" stroke-width="0.85"/><circle cx="207.33" cy="44.20" r="1.4" fill="#fff" stroke="#6868f0" stroke-width="0.85"/><circle cx="209.67" cy="44.60" r="1.4" fill="#fff" stroke="#6868f0" stroke-width="0.85"/><circle cx="212.00" cy="45.00" r="1.4" fill="#fff" stroke="#6868f0" stroke-width="0.85"/><circle cx="214.35" cy="45.45" r="1.4" fill="#fff" stroke="#6868f0" stroke-width="0.85"/><circle cx="216.70" cy="45.90" r="1.4" fill="#fff" stroke="#6868f0" stroke-width="0.85"/><circle cx="219.20" cy="47.15" r="1.4" fill="#fff" stroke="#6868f0" stroke-width="0.85"/><circle cx="221.70" cy="48.40" r="1.4" fill="#fff" stroke="#6868f0" stroke-width="0.85"/><circle cx="224.20" cy="50.05" r="1.4" fill="#fff" stroke="#6868f0" stroke-width="0.85"/><circle cx="226.70" cy="51.70" r="1.4" fill="#fff" stroke="#6868f0" stroke-width="0.85"/><circle cx="229.05" cy="53.55" r="1.4" fill="#fff" stroke="#6868f0" stroke-width="0.85"/><circle cx="231.40" cy="55.40" r="1.4" fill="#fff" stroke="#6868f0" stroke-width="0.85"/><circle cx="233.70" cy="58.40" r="1.4" fill="#fff" stroke="#6868f0" stroke-width="0.85"/><circle cx="236.40" cy="62.20" r="1.4" fill="#fff" stroke="#6868f0" stroke-width="0.85"/><circle cx="238.70" cy="66.40" r="1.4" fill="#fff" stroke="#6868f0" stroke-width="0.85"/><circle cx="240.90" cy="70.90" r="1.4" fill="#fff" stroke="#6868f0" stroke-width="0.85"/><circle cx="243.10" cy="75.10" r="1.4" fill="#fff" stroke="#6868f0" stroke-width="0.85"/><circle cx="245.40" cy="79.80" r="1.4" fill="#fff" stroke="#6868f0" stroke-width="0.85"/><circle cx="247.90" cy="83.80" r="1.4" fill="#fff" stroke="#6868f0" stroke-width="0.85"/><circle cx="250.50" cy="88.20" r="1.4" fill="#fff" stroke="#6868f0" stroke-width="0.85"/><circle cx="252.60" cy="92.20" r="1.4" fill="#fff" stroke="#6868f0" stroke-width="0.85"/><circle cx="254.80" cy="96.40" r="1.4" fill="#fff" stroke="#6868f0" stroke-width="0.85"/><circle cx="257.10" cy="100.50" r="1.4" fill="#fff" stroke="#6868f0" stroke-width="0.85"/><circle cx="259.50" cy="104.60" r="1.4" fill="#fff" stroke="#6868f0" stroke-width="0.85"/><circle cx="262.00" cy="109.20" r="1.4" fill="#fff" stroke="#6868f0" stroke-width="0.85"/><circle cx="264.30" cy="113.80" r="1.4" fill="#fff" stroke="#6868f0" stroke-width="0.85"/><circle cx="266.60" cy="118.80" r="1.4" fill="#fff" stroke="#6868f0" stroke-width="0.85"/><circle cx="268.90" cy="123.50" r="1.4" fill="#fff" stroke="#6868f0" stroke-width="0.85"/><circle cx="271.20" cy="128.70" r="1.4" fill="#fff" stroke="#6868f0" stroke-width="0.85"/><circle cx="273.70" cy="134.40" r="1.4" fill="#fff" stroke="#6868f0" stroke-width="0.85"/><circle cx="276.00" cy="140.40" r="1.4" fill="#fff" stroke="#6868f0" stroke-width="0.85"/><circle cx="278.30" cy="146.70" r="1.4" fill="#fff" stroke="#6868f0" stroke-width="0.85"/><circle cx="280.60" cy="153.60" r="1.4" fill="#fff" stroke="#6868f0" stroke-width="0.85"/><circle cx="283.10" cy="160.90" r="1.4" fill="#fff" stroke="#6868f0" stroke-width="0.85"/><circle cx="285.40" cy="167.90" r="1.4" fill="#fff" stroke="#6868f0" stroke-width="0.85"/><circle cx="287.80" cy="174.70" r="1.4" fill="#fff" stroke="#6868f0" stroke-width="0.85"/><circle cx="290.20" cy="181.10" r="1.4" fill="#fff" stroke="#6868f0" stroke-width="0.85"/><circle cx="292.20" cy="186.30" r="1.4" fill="#fff" stroke="#6868f0" stroke-width="0.85"/><circle cx="294.40" cy="190.10" r="1.4" fill="#fff" stroke="#6868f0" stroke-width="0.85"/><circle cx="297.30" cy="193.90" r="1.4" fill="#fff" stroke="#6868f0" stroke-width="0.85"/><circle cx="300.20" cy="196.40" r="1.4" fill="#fff" stroke="#6868f0" stroke-width="0.85"/><circle cx="303.05" cy="198.05" r="1.4" fill="#fff" stroke="#6868f0" stroke-width="0.85"/><circle cx="305.90" cy="199.70" r="1.4" fill="#fff" stroke="#6868f0" stroke-width="0.85"/><circle cx="308.80" cy="200.95" r="1.4" fill="#fff" stroke="#6868f0" stroke-width="0.85"/><circle cx="311.70" cy="202.20" r="1.4" fill="#fff" stroke="#6868f0" stroke-width="0.85"/><circle cx="314.55" cy="203.30" r="1.4" fill="#fff" stroke="#6868f0" stroke-width="0.85"/><circle cx="317.40" cy="204.40" r="1.4" fill="#fff" stroke="#6868f0" stroke-width="0.85"/><circle cx="319.97" cy="205.37" r="1.4" fill="#fff" stroke="#6868f0" stroke-width="0.85"/><circle cx="322.53" cy="206.33" r="1.4" fill="#fff" stroke="#6868f0" stroke-width="0.85"/><circle cx="325.10" cy="207.30" r="1.4" fill="#fff" stroke="#6868f0" stroke-width="0.85"/><circle cx="327.63" cy="208.13" r="1.4" fill="#fff" stroke="#6868f0" stroke-width="0.85"/><circle cx="330.17" cy="208.97" r="1.4" fill="#fff" stroke="#6868f0" stroke-width="0.85"/><circle cx="332.70" cy="209.80" r="1.4" fill="#fff" stroke="#6868f0" stroke-width="0.85"/><circle cx="335.02" cy="210.95" r="1.4" fill="#fff" stroke="#6868f0" stroke-width="0.85"/><circle cx="337.35" cy="212.10" r="1.4" fill="#fff" stroke="#6868f0" stroke-width="0.85"/><circle cx="339.68" cy="213.25" r="1.4" fill="#fff" stroke="#6868f0" stroke-width="0.85"/><circle cx="342.00" cy="214.40" r="1.4" fill="#fff" stroke="#6868f0" stroke-width="0.85"/><circle cx="344.38" cy="215.34" r="1.4" fill="#fff" stroke="#6868f0" stroke-width="0.85"/><circle cx="346.76" cy="216.28" r="1.4" fill="#fff" stroke="#6868f0" stroke-width="0.85"/><circle cx="349.14" cy="217.22" r="1.4" fill="#fff" stroke="#6868f0" stroke-width="0.85"/><circle cx="351.52" cy="218.16" r="1.4" fill="#fff" stroke="#6868f0" stroke-width="0.85"/><circle cx="353.90" cy="219.10" r="1.4" fill="#fff" stroke="#6868f0" stroke-width="0.85"/><circle cx="356.30" cy="219.92" r="1.4" fill="#fff" stroke="#6868f0" stroke-width="0.85"/><circle cx="358.70" cy="220.74" r="1.4" fill="#fff" stroke="#6868f0" stroke-width="0.85"/><circle cx="361.10" cy="221.56" r="1.4" fill="#fff" stroke="#6868f0" stroke-width="0.85"/><circle cx="363.50" cy="222.38" r="1.4" fill="#fff" stroke="#6868f0" stroke-width="0.85"/><circle cx="365.90" cy="223.20" r="1.4" fill="#fff" stroke="#6868f0" stroke-width="0.85"/><circle cx="368.28" cy="223.92" r="1.4" fill="#fff" stroke="#6868f0" stroke-width="0.85"/><circle cx="370.66" cy="224.64" r="1.4" fill="#fff" stroke="#6868f0" stroke-width="0.85"/><circle cx="373.04" cy="225.36" r="1.4" fill="#fff" stroke="#6868f0" stroke-width="0.85"/><circle cx="375.42" cy="226.08" r="1.4" fill="#fff" stroke="#6868f0" stroke-width="0.85"/><circle cx="377.80" cy="226.80" r="1.4" fill="#fff" stroke="#6868f0" stroke-width="0.85"/><circle cx="380.20" cy="227.42" r="1.4" fill="#fff" stroke="#6868f0" stroke-width="0.85"/><circle cx="382.60" cy="228.04" r="1.4" fill="#fff" stroke="#6868f0" stroke-width="0.85"/><circle cx="385.00" cy="228.66" r="1.4" fill="#fff" stroke="#6868f0" stroke-width="0.85"/><circle cx="387.40" cy="229.28" r="1.4" fill="#fff" stroke="#6868f0" stroke-width="0.85"/><circle cx="389.80" cy="229.90" r="1.4" fill="#fff" stroke="#6868f0" stroke-width="0.85"/><circle cx="392.20" cy="230.38" r="1.4" fill="#fff" stroke="#6868f0" stroke-width="0.85"/><circle cx="394.60" cy="230.86" r="1.4" fill="#fff" stroke="#6868f0" stroke-width="0.85"/><circle cx="397.00" cy="231.34" r="1.4" fill="#fff" stroke="#6868f0" stroke-width="0.85"/><circle cx="399.40" cy="231.82" r="1.4" fill="#fff" stroke="#6868f0" stroke-width="0.85"/><circle cx="401.80" cy="232.30" r="1.4" fill="#fff" stroke="#6868f0" stroke-width="0.85"/><circle cx="404.18" cy="232.68" r="1.4" fill="#fff" stroke="#6868f0" stroke-width="0.85"/><circle cx="406.56" cy="233.06" r="1.4" fill="#fff" stroke="#6868f0" stroke-width="0.85"/><circle cx="408.94" cy="233.44" r="1.4" fill="#fff" stroke="#6868f0" stroke-width="0.85"/><circle cx="411.32" cy="233.82" r="1.4" fill="#fff" stroke="#6868f0" stroke-width="0.85"/><circle cx="413.70" cy="234.20" r="1.4" fill="#fff" stroke="#6868f0" stroke-width="0.85"/><circle cx="416.10" cy="234.43" r="1.4" fill="#fff" stroke="#6868f0" stroke-width="0.85"/><circle cx="418.50" cy="234.67" r="1.4" fill="#fff" stroke="#6868f0" stroke-width="0.85"/><circle cx="420.90" cy="234.90" r="1.4" fill="#fff" stroke="#6868f0" stroke-width="0.85"/><circle cx="423.30" cy="235.13" r="1.4" fill="#fff" stroke="#6868f0" stroke-width="0.85"/><circle cx="425.70" cy="235.37" r="1.4" fill="#fff" stroke="#6868f0" stroke-width="0.85"/><circle cx="428.10" cy="235.60" r="1.4" fill="#fff" stroke="#6868f0" stroke-width="0.85"/><circle cx="430.49" cy="235.65" r="1.4" fill="#fff" stroke="#6868f0" stroke-width="0.85"/><circle cx="432.88" cy="235.70" r="1.4" fill="#fff" stroke="#6868f0" stroke-width="0.85"/><circle cx="435.28" cy="235.75" r="1.4" fill="#fff" stroke="#6868f0" stroke-width="0.85"/><circle cx="437.67" cy="235.80" r="1.4" fill="#fff" stroke="#6868f0" stroke-width="0.85"/><circle cx="440.06" cy="235.85" r="1.4" fill="#fff" stroke="#6868f0" stroke-width="0.85"/><circle cx="442.45" cy="235.90" r="1.4" fill="#fff" stroke="#6868f0" stroke-width="0.85"/><circle cx="444.84" cy="235.95" r="1.4" fill="#fff" stroke="#6868f0" stroke-width="0.85"/><circle cx="447.23" cy="236.00" r="1.4" fill="#fff" stroke="#6868f0" stroke-width="0.85"/><circle cx="449.62" cy="236.05" r="1.4" fill="#fff" stroke="#6868f0" stroke-width="0.85"/><circle cx="452.02" cy="236.10" r="1.4" fill="#fff" stroke="#6868f0" stroke-width="0.85"/><circle cx="454.41" cy="236.15" r="1.4" fill="#fff" stroke="#6868f0" stroke-width="0.85"/><circle cx="456.80" cy="236.20" r="1.4" fill="#fff" stroke="#6868f0" stroke-width="0.85"/><path d="M143.60 33.87L146.10 37.97L141.10 37.97Z" fill="none" stroke="#ea6464" stroke-width="1.0"/><rect x="145.0" y="35.8" width="3.0" height="4.6" rx="0.8" fill="#22e022"/><rect x="141.9" y="35.4" width="3.3" height="5.4" rx="1" fill="#1a1ad8"/></g><line x1="71" y1="205.2" x2="331" y2="205.2" stroke="#1a1a1a" stroke-width="1.6" stroke-dasharray="4.2 4.06" stroke-dashoffset="1.16"/><line x1="71" y1="259.9" x2="456" y2="259.9" stroke="#1a1a1a" stroke-width="1.6" stroke-dasharray="4.2 4.06" stroke-dashoffset="1.16"/><line x1="213.1" y1="212" x2="213.1" y2="255" stroke="#111" stroke-width="1.5"/><path d="M213.5 207.7 L211.7 214.3 L215.6 214.3 Z" fill="#111"/><path d="M213.5 259.0 L211.7 253.6 L215.6 253.6 Z" fill="#111"/><text x="185.7" y="242.1" text-anchor="middle" style="font-family:'Liberation Sans',sans-serif;font-weight:bold;font-size:18px">20%</text><rect x="70.80" y="8.44" width="422.20" height="342.72" fill="none" stroke="#000" stroke-width="1.85"/><line x1="67.30" y1="351.16" x2="70.80" y2="351.16" stroke="#000" stroke-width="1.5"/><line x1="64.30" y1="322.60" x2="70.80" y2="322.60" stroke="#000" stroke-width="1.5"/><text x="60.1" y="326.30" text-anchor="end" style="font-family:'Liberation Sans',sans-serif;font-weight:bold;font-size:13.8px">0</text><line x1="67.30" y1="294.04" x2="70.80" y2="294.04" stroke="#000" stroke-width="1.5"/><line x1="64.30" y1="265.48" x2="70.80" y2="265.48" stroke="#000" stroke-width="1.5"/><text x="60.1" y="269.18" text-anchor="end" style="font-family:'Liberation Sans',sans-serif;font-weight:bold;font-size:13.8px">20</text><line x1="67.30" y1="236.92" x2="70.80" y2="236.92" stroke="#000" stroke-width="1.5"/><line x1="64.30" y1="208.36" x2="70.80" y2="208.36" stroke="#000" stroke-width="1.5"/><text x="60.1" y="212.06" text-anchor="end" style="font-family:'Liberation Sans',sans-serif;font-weight:bold;font-size:13.8px">40</text><line x1="67.30" y1="179.80" x2="70.80" y2="179.80" stroke="#000" stroke-width="1.5"/><line x1="64.30" y1="151.24" x2="70.80" y2="151.24" stroke="#000" stroke-width="1.5"/><text x="60.1" y="154.94" text-anchor="end" style="font-family:'Liberation Sans',sans-serif;font-weight:bold;font-size:13.8px">60</text><line x1="67.30" y1="122.68" x2="70.80" y2="122.68" stroke="#000" stroke-width="1.5"/><line x1="64.30" y1="94.12" x2="70.80" y2="94.12" stroke="#000" stroke-width="1.5"/><text x="60.1" y="97.82" text-anchor="end" style="font-family:'Liberation Sans',sans-serif;font-weight:bold;font-size:13.8px">80</text><line x1="67.30" y1="65.56" x2="70.80" y2="65.56" stroke="#000" stroke-width="1.5"/><line x1="64.30" y1="37.00" x2="70.80" y2="37.00" stroke="#000" stroke-width="1.5"/><text x="60.1" y="40.70" text-anchor="end" style="font-family:'Liberation Sans',sans-serif;font-weight:bold;font-size:13.8px">100</text><line x1="67.30" y1="8.44" x2="70.80" y2="8.44" stroke="#000" stroke-width="1.5"/><line x1="70.80" y1="351.16" x2="70.80" y2="357.66" stroke="#000" stroke-width="1.5"/><text x="70.80" y="372.7" text-anchor="middle" style="font-family:'Liberation Sans',sans-serif;font-weight:bold;font-size:13.8px">0</text><line x1="105.98" y1="351.16" x2="105.98" y2="354.66" stroke="#000" stroke-width="1.5"/><line x1="141.17" y1="351.16" x2="141.17" y2="357.66" stroke="#000" stroke-width="1.5"/><text x="141.17" y="372.7" text-anchor="middle" style="font-family:'Liberation Sans',sans-serif;font-weight:bold;font-size:13.8px">100</text><line x1="176.35" y1="351.16" x2="176.35" y2="354.66" stroke="#000" stroke-width="1.5"/><line x1="211.53" y1="351.16" x2="211.53" y2="357.66" stroke="#000" stroke-width="1.5"/><text x="211.53" y="372.7" text-anchor="middle" style="font-family:'Liberation Sans',sans-serif;font-weight:bold;font-size:13.8px">200</text><line x1="246.72" y1="351.16" x2="246.72" y2="354.66" stroke="#000" stroke-width="1.5"/><line x1="281.90" y1="351.16" x2="281.90" y2="357.66" stroke="#000" stroke-width="1.5"/><text x="281.90" y="372.7" text-anchor="middle" style="font-family:'Liberation Sans',sans-serif;font-weight:bold;font-size:13.8px">300</text><line x1="317.08" y1="351.16" x2="317.08" y2="354.66" stroke="#000" stroke-width="1.5"/><line x1="352.27" y1="351.16" x2="352.27" y2="357.66" stroke="#000" stroke-width="1.5"/><text x="352.27" y="372.7" text-anchor="middle" style="font-family:'Liberation Sans',sans-serif;font-weight:bold;font-size:13.8px">400</text><line x1="387.45" y1="351.16" x2="387.45" y2="354.66" stroke="#000" stroke-width="1.5"/><line x1="422.63" y1="351.16" x2="422.63" y2="357.66" stroke="#000" stroke-width="1.5"/><text x="422.63" y="372.7" text-anchor="middle" style="font-family:'Liberation Sans',sans-serif;font-weight:bold;font-size:13.8px">500</text><line x1="457.82" y1="351.16" x2="457.82" y2="354.66" stroke="#000" stroke-width="1.5"/><line x1="493.00" y1="351.16" x2="493.00" y2="357.66" stroke="#000" stroke-width="1.5"/><text x="493.00" y="372.7" text-anchor="middle" style="font-family:'Liberation Sans',sans-serif;font-weight:bold;font-size:13.8px">600</text><text x="282.2" y="402.6" text-anchor="middle" style="font-family:'Liberation Sans',sans-serif;font-weight:bold;font-size:19px">Temperature (°C)</text><text transform="translate(24.8 192.5) rotate(-90)" text-anchor="middle" style="font-family:'Liberation Sans',sans-serif;font-weight:bold;font-size:19px">Weight (%)</text><text x="431.5" y="44.1" text-anchor="middle" style="font-family:'Liberation Sans',sans-serif;font-weight:bold;font-size:18.5px">A</text><rect x="104.8" y="280" width="215.5" height="64.0" fill="#fff" stroke="#000" stroke-width="1.2"/><line x1="114.4" y1="291.0" x2="145" y2="291.0" stroke="#111" stroke-width="1.5"/><rect x="128.70" y="289.70" width="2.6" height="2.6" fill="#fff" stroke="#555" stroke-width="0.9"/><text x="149.8" y="295.1" style="font-family:'Liberation Sans',sans-serif;font-weight:bold;font-size:11.55px">TONC</text><line x1="114.4" y1="305.7" x2="145" y2="305.7" stroke="#e01818" stroke-width="1.5"/><path d="M130.00 302.30L133.00 307.10L127.00 307.10Z" fill="none" stroke="#e01010" stroke-width="1.2"/><text x="149.8" y="309.8" style="font-family:'Liberation Sans',sans-serif;font-weight:bold;font-size:11.55px">PCL</text><line x1="114.4" y1="320.3" x2="145" y2="320.3" stroke="#22dd22" stroke-width="1.5"/><path d="M130.00 323.70L133.00 318.90L127.00 318.90Z" fill="none" stroke="#20d020" stroke-width="1.2"/><text x="149.8" y="324.4" style="font-family:'Liberation Sans',sans-serif;font-weight:bold;font-size:11.55px">TONC-g-PCL by click</text><line x1="114.4" y1="335.1" x2="145" y2="335.1" stroke="#1515b5" stroke-width="1.5"/><circle cx="130.00" cy="335.10" r="1.8" fill="#fff" stroke="#4848dd" stroke-width="0.9"/><text x="149.8" y="339.2" style="font-family:'Liberation Sans',sans-serif;font-weight:bold;font-size:11.55px">TONC-g-PCL by esterification</text><g><circle cx="632.60" cy="336.50" r="1.2" fill="#fff" stroke="#707070" stroke-width="0.9"/><circle cx="641.90" cy="336.50" r="1.2" fill="#fff" stroke="#707070" stroke-width="0.9"/><circle cx="651.30" cy="336.50" r="1.2" fill="#fff" stroke="#707070" stroke-width="0.9"/><circle cx="660.90" cy="336.50" r="1.2" fill="#fff" stroke="#707070" stroke-width="0.9"/><circle cx="670.00" cy="331.94" r="1.2" fill="#fff" stroke="#707070" stroke-width="0.9"/><circle cx="672.50" cy="333.05" r="1.2" fill="#fff" stroke="#707070" stroke-width="0.9"/><circle cx="675.00" cy="332.72" r="1.2" fill="#fff" stroke="#707070" stroke-width="0.9"/><circle cx="677.50" cy="331.63" r="1.2" fill="#fff" stroke="#707070" stroke-width="0.9"/><circle cx="680.00" cy="331.89" r="1.2" fill="#fff" stroke="#707070" stroke-width="0.9"/><circle cx="682.50" cy="331.63" r="1.2" fill="#fff" stroke="#707070" stroke-width="0.9"/><circle cx="685.00" cy="331.82" r="1.2" fill="#fff" stroke="#707070" stroke-width="0.9"/><circle cx="687.50" cy="331.89" r="1.2" fill="#fff" stroke="#707070" stroke-width="0.9"/><circle cx="690.00" cy="330.47" r="1.2" fill="#fff" stroke="#707070" stroke-width="0.9"/><circle cx="692.27" cy="330.33" r="1.2" fill="#fff" stroke="#707070" stroke-width="0.9"/><circle cx="694.53" cy="331.77" r="1.2" fill="#fff" stroke="#707070" stroke-width="0.9"/><circle cx="696.80" cy="331.03" r="1.2" fill="#fff" stroke="#707070" stroke-width="0.9"/><circle cx="699.07" cy="331.61" r="1.2" fill="#fff" stroke="#707070" stroke-width="0.9"/><circle cx="701.33" cy="330.22" r="1.2" fill="#fff" stroke="#707070" stroke-width="0.9"/><circle cx="703.60" cy="331.00" r="1.2" fill="#fff" stroke="#707070" stroke-width="0.9"/><circle cx="705.88" cy="331.45" r="1.2" fill="#fff" stroke="#707070" stroke-width="0.9"/><circle cx="708.17" cy="330.51" r="1.2" fill="#fff" stroke="#707070" stroke-width="0.9"/><circle cx="710.45" cy="331.75" r="1.2" fill="#fff" stroke="#707070" stroke-width="0.9"/><circle cx="712.73" cy="331.62" r="1.2" fill="#fff" stroke="#707070" stroke-width="0.9"/><circle cx="715.02" cy="330.01" r="1.2" fill="#fff" stroke="#707070" stroke-width="0.9"/><circle cx="717.30" cy="329.95" r="1.2" fill="#fff" stroke="#707070" stroke-width="0.9"/><circle cx="719.40" cy="330.47" r="1.2" fill="#fff" stroke="#707070" stroke-width="0.9"/><circle cx="721.50" cy="330.79" r="1.2" fill="#fff" stroke="#707070" stroke-width="0.9"/><circle cx="725.00" cy="327.60" r="1.2" fill="#fff" stroke="#707070" stroke-width="0.9"/><circle cx="726.80" cy="323.90" r="1.2" fill="#fff" stroke="#707070" stroke-width="0.9"/><circle cx="729.10" cy="319.30" r="1.2" fill="#fff" stroke="#707070" stroke-width="0.9"/><circle cx="731.80" cy="316.40" r="1.2" fill="#fff" stroke="#707070" stroke-width="0.9"/><circle cx="734.10" cy="316.40" r="1.2" fill="#fff" stroke="#707070" stroke-width="0.9"/><circle cx="736.40" cy="316.40" r="1.2" fill="#fff" stroke="#707070" stroke-width="0.9"/><circle cx="739.20" cy="316.70" r="1.2" fill="#fff" stroke="#707070" stroke-width="0.9"/><circle cx="742.00" cy="317.00" r="1.2" fill="#fff" stroke="#707070" stroke-width="0.9"/><circle cx="744.30" cy="316.45" r="1.2" fill="#fff" stroke="#707070" stroke-width="0.9"/><circle cx="746.60" cy="315.90" r="1.2" fill="#fff" stroke="#707070" stroke-width="0.9"/><circle cx="748.55" cy="314.55" r="1.2" fill="#fff" stroke="#707070" stroke-width="0.9"/><circle cx="750.50" cy="313.20" r="1.2" fill="#fff" stroke="#707070" stroke-width="0.9"/><circle cx="753.40" cy="308.60" r="1.2" fill="#fff" stroke="#707070" stroke-width="0.9"/><circle cx="755.70" cy="303.40" r="1.2" fill="#fff" stroke="#707070" stroke-width="0.9"/><circle cx="758.00" cy="297.30" r="1.2" fill="#fff" stroke="#707070" stroke-width="0.9"/><circle cx="760.20" cy="289.80" r="1.2" fill="#fff" stroke="#707070" stroke-width="0.9"/><circle cx="762.60" cy="281.80" r="1.2" fill="#fff" stroke="#707070" stroke-width="0.9"/><circle cx="765.40" cy="275.40" r="1.2" fill="#fff" stroke="#707070" stroke-width="0.9"/><circle cx="768.20" cy="269.30" r="1.2" fill="#fff" stroke="#707070" stroke-width="0.9"/><circle cx="770.80" cy="265.00" r="1.2" fill="#fff" stroke="#707070" stroke-width="0.9"/><circle cx="772.90" cy="263.50" r="1.2" fill="#fff" stroke="#707070" stroke-width="0.9"/><circle cx="775.10" cy="265.00" r="1.2" fill="#fff" stroke="#707070" stroke-width="0.9"/><circle cx="777.20" cy="267.80" r="1.2" fill="#fff" stroke="#707070" stroke-width="0.9"/><circle cx="780.50" cy="271.10" r="1.2" fill="#fff" stroke="#707070" stroke-width="0.9"/><circle cx="783.70" cy="273.60" r="1.2" fill="#fff" stroke="#707070" stroke-width="0.9"/><circle cx="785.85" cy="273.95" r="1.2" fill="#fff" stroke="#707070" stroke-width="0.9"/><circle cx="788.00" cy="274.30" r="1.2" fill="#fff" stroke="#707070" stroke-width="0.9"/><circle cx="790.15" cy="273.75" r="1.2" fill="#fff" stroke="#707070" stroke-width="0.9"/><circle cx="792.30" cy="273.20" r="1.2" fill="#fff" stroke="#707070" stroke-width="0.9"/><circle cx="795.50" cy="271.10" r="1.2" fill="#fff" stroke="#707070" stroke-width="0.9"/><circle cx="798.80" cy="267.80" r="1.2" fill="#fff" stroke="#707070" stroke-width="0.9"/><circle cx="801.30" cy="264.20" r="1.2" fill="#fff" stroke="#707070" stroke-width="0.9"/><circle cx="803.70" cy="259.60" r="1.2" fill="#fff" stroke="#707070" stroke-width="0.9"/><circle cx="806.30" cy="254.90" r="1.2" fill="#fff" stroke="#707070" stroke-width="0.9"/><circle cx="808.50" cy="249.10" r="1.2" fill="#fff" stroke="#707070" stroke-width="0.9"/><circle cx="811.00" cy="243.10" r="1.2" fill="#fff" stroke="#707070" stroke-width="0.9"/><circle cx="813.40" cy="236.60" r="1.2" fill="#fff" stroke="#707070" stroke-width="0.9"/><circle cx="815.60" cy="231.20" r="1.2" fill="#fff" stroke="#707070" stroke-width="0.9"/><circle cx="818.20" cy="227.30" r="1.2" fill="#fff" stroke="#707070" stroke-width="0.9"/><circle cx="820.90" cy="228.50" r="1.2" fill="#fff" stroke="#707070" stroke-width="0.9"/><circle cx="822.90" cy="237.70" r="1.2" fill="#fff" stroke="#707070" stroke-width="0.9"/><circle cx="825.20" cy="252.80" r="1.2" fill="#fff" stroke="#707070" stroke-width="0.9"/><circle cx="827.80" cy="274.30" r="1.2" fill="#fff" stroke="#707070" stroke-width="0.9"/><circle cx="830.50" cy="292.70" r="1.2" fill="#fff" stroke="#707070" stroke-width="0.9"/><circle cx="832.70" cy="305.70" r="1.2" fill="#fff" stroke="#707070" stroke-width="0.9"/><circle cx="835.20" cy="311.80" r="1.2" fill="#fff" stroke="#707070" stroke-width="0.9"/><circle cx="838.00" cy="315.90" r="1.2" fill="#fff" stroke="#707070" stroke-width="0.9"/><circle cx="840.80" cy="317.45" r="1.2" fill="#fff" stroke="#707070" stroke-width="0.9"/><circle cx="843.60" cy="319.00" r="1.2" fill="#fff" stroke="#707070" stroke-width="0.9"/><circle cx="845.88" cy="319.57" r="1.2" fill="#fff" stroke="#707070" stroke-width="0.9"/><circle cx="848.15" cy="320.15" r="1.2" fill="#fff" stroke="#707070" stroke-width="0.9"/><circle cx="850.43" cy="320.73" r="1.2" fill="#fff" stroke="#707070" stroke-width="0.9"/><circle cx="852.70" cy="321.30" r="1.2" fill="#fff" stroke="#707070" stroke-width="0.9"/><circle cx="854.97" cy="321.54" r="1.2" fill="#fff" stroke="#707070" stroke-width="0.9"/><circle cx="857.24" cy="321.79" r="1.2" fill="#fff" stroke="#707070" stroke-width="0.9"/><circle cx="859.51" cy="322.03" r="1.2" fill="#fff" stroke="#707070" stroke-width="0.9"/><circle cx="861.79" cy="322.06" r="1.2" fill="#fff" stroke="#707070" stroke-width="0.9"/><circle cx="864.06" cy="322.00" r="1.2" fill="#fff" stroke="#707070" stroke-width="0.9"/><circle cx="866.33" cy="322.62" r="1.2" fill="#fff" stroke="#707070" stroke-width="0.9"/><circle cx="868.60" cy="322.15" r="1.2" fill="#fff" stroke="#707070" stroke-width="0.9"/><circle cx="870.88" cy="322.54" r="1.2" fill="#fff" stroke="#707070" stroke-width="0.9"/><circle cx="873.16" cy="322.97" r="1.2" fill="#fff" stroke="#707070" stroke-width="0.9"/><circle cx="875.44" cy="323.11" r="1.2" fill="#fff" stroke="#707070" stroke-width="0.9"/><circle cx="877.72" cy="322.68" r="1.2" fill="#fff" stroke="#707070" stroke-width="0.9"/><circle cx="880.00" cy="322.72" r="1.2" fill="#fff" stroke="#707070" stroke-width="0.9"/><circle cx="882.39" cy="322.74" r="1.2" fill="#fff" stroke="#707070" stroke-width="0.9"/><circle cx="884.78" cy="323.23" r="1.2" fill="#fff" stroke="#707070" stroke-width="0.9"/><circle cx="887.17" cy="322.97" r="1.2" fill="#fff" stroke="#707070" stroke-width="0.9"/><circle cx="889.56" cy="322.54" r="1.2" fill="#fff" stroke="#707070" stroke-width="0.9"/><circle cx="891.95" cy="324.06" r="1.2" fill="#fff" stroke="#707070" stroke-width="0.9"/><circle cx="894.34" cy="323.60" r="1.2" fill="#fff" stroke="#707070" stroke-width="0.9"/><circle cx="896.73" cy="323.81" r="1.2" fill="#fff" stroke="#707070" stroke-width="0.9"/><circle cx="899.12" cy="323.03" r="1.2" fill="#fff" stroke="#707070" stroke-width="0.9"/><circle cx="901.51" cy="324.54" r="1.2" fill="#fff" stroke="#707070" stroke-width="0.9"/><circle cx="903.90" cy="324.35" r="1.2" fill="#fff" stroke="#707070" stroke-width="0.9"/><circle cx="906.29" cy="323.26" r="1.2" fill="#fff" stroke="#707070" stroke-width="0.9"/><circle cx="908.68" cy="323.88" r="1.2" fill="#fff" stroke="#707070" stroke-width="0.9"/><circle cx="911.07" cy="324.82" r="1.2" fill="#fff" stroke="#707070" stroke-width="0.9"/><circle cx="913.46" cy="325.04" r="1.2" fill="#fff" stroke="#707070" stroke-width="0.9"/><circle cx="915.85" cy="325.69" r="1.2" fill="#fff" stroke="#707070" stroke-width="0.9"/><circle cx="918.24" cy="325.00" r="1.2" fill="#fff" stroke="#707070" stroke-width="0.9"/><circle cx="920.63" cy="325.97" r="1.2" fill="#fff" stroke="#707070" stroke-width="0.9"/><circle cx="923.02" cy="325.93" r="1.2" fill="#fff" stroke="#707070" stroke-width="0.9"/><circle cx="925.41" cy="325.51" r="1.2" fill="#fff" stroke="#707070" stroke-width="0.9"/><circle cx="927.80" cy="326.26" r="1.2" fill="#fff" stroke="#707070" stroke-width="0.9"/><circle cx="930.20" cy="327.15" r="1.2" fill="#fff" stroke="#707070" stroke-width="0.9"/><circle cx="932.60" cy="327.44" r="1.2" fill="#fff" stroke="#707070" stroke-width="0.9"/><circle cx="935.00" cy="327.19" r="1.2" fill="#fff" stroke="#707070" stroke-width="0.9"/><circle cx="937.40" cy="327.70" r="1.2" fill="#fff" stroke="#707070" stroke-width="0.9"/><circle cx="939.80" cy="327.06" r="1.2" fill="#fff" stroke="#707070" stroke-width="0.9"/><circle cx="942.20" cy="327.80" r="1.2" fill="#fff" stroke="#707070" stroke-width="0.9"/><circle cx="944.60" cy="329.16" r="1.2" fill="#fff" stroke="#707070" stroke-width="0.9"/><circle cx="947.00" cy="328.83" r="1.2" fill="#fff" stroke="#707070" stroke-width="0.9"/><circle cx="949.40" cy="328.75" r="1.2" fill="#fff" stroke="#707070" stroke-width="0.9"/><circle cx="951.80" cy="329.79" r="1.2" fill="#fff" stroke="#707070" stroke-width="0.9"/><circle cx="954.19" cy="330.41" r="1.2" fill="#fff" stroke="#707070" stroke-width="0.9"/><circle cx="956.57" cy="330.70" r="1.2" fill="#fff" stroke="#707070" stroke-width="0.9"/><circle cx="958.96" cy="330.50" r="1.2" fill="#fff" stroke="#707070" stroke-width="0.9"/><circle cx="961.34" cy="330.96" r="1.2" fill="#fff" stroke="#707070" stroke-width="0.9"/><circle cx="963.73" cy="331.43" r="1.2" fill="#fff" stroke="#707070" stroke-width="0.9"/><circle cx="966.11" cy="332.26" r="1.2" fill="#fff" stroke="#707070" stroke-width="0.9"/><circle cx="968.50" cy="332.14" r="1.2" fill="#fff" stroke="#707070" stroke-width="0.9"/><circle cx="970.89" cy="331.98" r="1.2" fill="#fff" stroke="#707070" stroke-width="0.9"/><circle cx="973.29" cy="332.23" r="1.2" fill="#fff" stroke="#707070" stroke-width="0.9"/><circle cx="975.68" cy="331.47" r="1.2" fill="#fff" stroke="#707070" stroke-width="0.9"/><circle cx="978.08" cy="331.57" r="1.2" fill="#fff" stroke="#707070" stroke-width="0.9"/><circle cx="980.47" cy="332.83" r="1.2" fill="#fff" stroke="#707070" stroke-width="0.9"/><circle cx="982.87" cy="333.41" r="1.2" fill="#fff" stroke="#707070" stroke-width="0.9"/><circle cx="985.26" cy="332.78" r="1.2" fill="#fff" stroke="#707070" stroke-width="0.9"/><circle cx="987.66" cy="332.50" r="1.2" fill="#fff" stroke="#707070" stroke-width="0.9"/><circle cx="990.05" cy="332.17" r="1.2" fill="#fff" stroke="#707070" stroke-width="0.9"/><circle cx="992.45" cy="332.84" r="1.2" fill="#fff" stroke="#707070" stroke-width="0.9"/><circle cx="994.84" cy="333.78" r="1.2" fill="#fff" stroke="#707070" stroke-width="0.9"/><circle cx="997.24" cy="333.47" r="1.2" fill="#fff" stroke="#707070" stroke-width="0.9"/><circle cx="999.63" cy="333.13" r="1.2" fill="#fff" stroke="#707070" stroke-width="0.9"/><circle cx="1002.03" cy="333.78" r="1.2" fill="#fff" stroke="#707070" stroke-width="0.9"/><circle cx="1004.42" cy="332.72" r="1.2" fill="#fff" stroke="#707070" stroke-width="0.9"/><circle cx="1006.82" cy="333.30" r="1.2" fill="#fff" stroke="#707070" stroke-width="0.9"/><circle cx="1009.21" cy="334.17" r="1.2" fill="#fff" stroke="#707070" stroke-width="0.9"/><circle cx="1011.61" cy="333.57" r="1.2" fill="#fff" stroke="#707070" stroke-width="0.9"/><circle cx="632.60" cy="336.50" r="1.4" fill="#fff" stroke="#6868f0" stroke-width="0.85"/><circle cx="641.90" cy="336.50" r="1.4" fill="#fff" stroke="#6868f0" stroke-width="0.85"/><circle cx="651.30" cy="336.50" r="1.4" fill="#fff" stroke="#6868f0" stroke-width="0.85"/><circle cx="660.90" cy="336.50" r="1.4" fill="#fff" stroke="#6868f0" stroke-width="0.85"/><circle cx="670.00" cy="333.93" r="1.4" fill="#fff" stroke="#6868f0" stroke-width="0.85"/><circle cx="672.50" cy="334.27" r="1.4" fill="#fff" stroke="#6868f0" stroke-width="0.85"/><circle cx="675.00" cy="333.19" r="1.4" fill="#fff" stroke="#6868f0" stroke-width="0.85"/><circle cx="677.50" cy="333.59" r="1.4" fill="#fff" stroke="#6868f0" stroke-width="0.85"/><circle cx="680.00" cy="335.14" r="1.4" fill="#fff" stroke="#6868f0" stroke-width="0.85"/><circle cx="682.50" cy="335.07" r="1.4" fill="#fff" stroke="#6868f0" stroke-width="0.85"/><circle cx="685.00" cy="335.05" r="1.4" fill="#fff" stroke="#6868f0" stroke-width="0.85"/><circle cx="687.50" cy="334.56" r="1.4" fill="#fff" stroke="#6868f0" stroke-width="0.85"/><circle cx="690.00" cy="335.12" r="1.4" fill="#fff" stroke="#6868f0" stroke-width="0.85"/><circle cx="692.50" cy="335.21" r="1.4" fill="#fff" stroke="#6868f0" stroke-width="0.85"/><circle cx="695.00" cy="335.25" r="1.4" fill="#fff" stroke="#6868f0" stroke-width="0.85"/><circle cx="697.50" cy="334.67" r="1.4" fill="#fff" stroke="#6868f0" stroke-width="0.85"/><circle cx="700.00" cy="335.19" r="1.4" fill="#fff" stroke="#6868f0" stroke-width="0.85"/><circle cx="702.33" cy="335.04" r="1.4" fill="#fff" stroke="#6868f0" stroke-width="0.85"/><circle cx="704.67" cy="335.48" r="1.4" fill="#fff" stroke="#6868f0" stroke-width="0.85"/><circle cx="707.00" cy="335.83" r="1.4" fill="#fff" stroke="#6868f0" stroke-width="0.85"/><circle cx="709.33" cy="335.67" r="1.4" fill="#fff" stroke="#6868f0" stroke-width="0.85"/><circle cx="711.67" cy="334.94" r="1.4" fill="#fff" stroke="#6868f0" stroke-width="0.85"/><circle cx="714.00" cy="334.69" r="1.4" fill="#fff" stroke="#6868f0" stroke-width="0.85"/><circle cx="716.33" cy="334.32" r="1.4" fill="#fff" stroke="#6868f0" stroke-width="0.85"/><circle cx="718.67" cy="333.86" r="1.4" fill="#fff" stroke="#6868f0" stroke-width="0.85"/><circle cx="721.00" cy="333.76" r="1.4" fill="#fff" stroke="#6868f0" stroke-width="0.85"/><circle cx="723.33" cy="334.38" r="1.4" fill="#fff" stroke="#6868f0" stroke-width="0.85"/><circle cx="725.67" cy="334.06" r="1.4" fill="#fff" stroke="#6868f0" stroke-width="0.85"/><circle cx="728.00" cy="334.07" r="1.4" fill="#fff" stroke="#6868f0" stroke-width="0.85"/><circle cx="730.33" cy="334.80" r="1.4" fill="#fff" stroke="#6868f0" stroke-width="0.85"/><circle cx="732.67" cy="334.13" r="1.4" fill="#fff" stroke="#6868f0" stroke-width="0.85"/><circle cx="735.00" cy="334.10" r="1.4" fill="#fff" stroke="#6868f0" stroke-width="0.85"/><circle cx="737.95" cy="332.90" r="1.4" fill="#fff" stroke="#6868f0" stroke-width="0.85"/><circle cx="740.90" cy="331.80" r="1.4" fill="#fff" stroke="#6868f0" stroke-width="0.85"/><circle cx="743.20" cy="330.65" r="1.4" fill="#fff" stroke="#6868f0" stroke-width="0.85"/><circle cx="745.50" cy="329.50" r="1.4" fill="#fff" stroke="#6868f0" stroke-width="0.85"/><circle cx="747.75" cy="327.80" r="1.4" fill="#fff" stroke="#6868f0" stroke-width="0.85"/><circle cx="750.00" cy="326.10" r="1.4" fill="#fff" stroke="#6868f0" stroke-width="0.85"/><circle cx="753.40" cy="322.30" r="1.4" fill="#fff" stroke="#6868f0" stroke-width="0.85"/><circle cx="756.40" cy="318.20" r="1.4" fill="#fff" stroke="#6868f0" stroke-width="0.85"/><circle cx="758.60" cy="314.10" r="1.4" fill="#fff" stroke="#6868f0" stroke-width="0.85"/><circle cx="760.90" cy="310.20" r="1.4" fill="#fff" stroke="#6868f0" stroke-width="0.85"/><circle cx="763.20" cy="306.40" r="1.4" fill="#fff" stroke="#6868f0" stroke-width="0.85"/><circle cx="765.90" cy="302.70" r="1.4" fill="#fff" stroke="#6868f0" stroke-width="0.85"/><circle cx="769.30" cy="299.50" r="1.4" fill="#fff" stroke="#6868f0" stroke-width="0.85"/><circle cx="772.70" cy="298.90" r="1.4" fill="#fff" stroke="#6868f0" stroke-width="0.85"/><circle cx="775.00" cy="299.20" r="1.4" fill="#fff" stroke="#6868f0" stroke-width="0.85"/><circle cx="777.30" cy="299.50" r="1.4" fill="#fff" stroke="#6868f0" stroke-width="0.85"/><circle cx="779.55" cy="299.50" r="1.4" fill="#fff" stroke="#6868f0" stroke-width="0.85"/><circle cx="781.80" cy="299.50" r="1.4" fill="#fff" stroke="#6868f0" stroke-width="0.85"/><circle cx="784.65" cy="299.20" r="1.4" fill="#fff" stroke="#6868f0" stroke-width="0.85"/><circle cx="787.50" cy="298.90" r="1.4" fill="#fff" stroke="#6868f0" stroke-width="0.85"/><circle cx="791.00" cy="298.50" r="1.4" fill="#fff" stroke="#6868f0" stroke-width="0.85"/><circle cx="793.45" cy="297.55" r="1.4" fill="#fff" stroke="#6868f0" stroke-width="0.85"/><circle cx="795.90" cy="296.60" r="1.4" fill="#fff" stroke="#6868f0" stroke-width="0.85"/><circle cx="798.20" cy="294.30" r="1.4" fill="#fff" stroke="#6868f0" stroke-width="0.85"/><circle cx="800.50" cy="292.00" r="1.4" fill="#fff" stroke="#6868f0" stroke-width="0.85"/><circle cx="802.75" cy="288.60" r="1.4" fill="#fff" stroke="#6868f0" stroke-width="0.85"/><circle cx="805.00" cy="285.20" r="1.4" fill="#fff" stroke="#6868f0" stroke-width="0.85"/><circle cx="807.25" cy="281.80" r="1.4" fill="#fff" stroke="#6868f0" stroke-width="0.85"/><circle cx="809.50" cy="278.40" r="1.4" fill="#fff" stroke="#6868f0" stroke-width="0.85"/><circle cx="811.55" cy="276.45" r="1.4" fill="#fff" stroke="#6868f0" stroke-width="0.85"/><circle cx="813.60" cy="274.50" r="1.4" fill="#fff" stroke="#6868f0" stroke-width="0.85"/><circle cx="815.90" cy="276.10" r="1.4" fill="#fff" stroke="#6868f0" stroke-width="0.85"/><circle cx="818.20" cy="280.70" r="1.4" fill="#fff" stroke="#6868f0" stroke-width="0.85"/><circle cx="820.50" cy="288.60" r="1.4" fill="#fff" stroke="#6868f0" stroke-width="0.85"/><circle cx="823.20" cy="298.20" r="1.4" fill="#fff" stroke="#6868f0" stroke-width="0.85"/><circle cx="825.50" cy="306.40" r="1.4" fill="#fff" stroke="#6868f0" stroke-width="0.85"/><circle cx="827.70" cy="314.10" r="1.4" fill="#fff" stroke="#6868f0" stroke-width="0.85"/><circle cx="830.50" cy="318.60" r="1.4" fill="#fff" stroke="#6868f0" stroke-width="0.85"/><circle cx="832.50" cy="320.45" r="1.4" fill="#fff" stroke="#6868f0" stroke-width="0.85"/><circle cx="834.50" cy="322.30" r="1.4" fill="#fff" stroke="#6868f0" stroke-width="0.85"/><circle cx="836.80" cy="323.37" r="1.4" fill="#fff" stroke="#6868f0" stroke-width="0.85"/><circle cx="839.10" cy="324.43" r="1.4" fill="#fff" stroke="#6868f0" stroke-width="0.85"/><circle cx="841.40" cy="325.50" r="1.4" fill="#fff" stroke="#6868f0" stroke-width="0.85"/><circle cx="843.67" cy="326.10" r="1.4" fill="#fff" stroke="#6868f0" stroke-width="0.85"/><circle cx="845.93" cy="326.70" r="1.4" fill="#fff" stroke="#6868f0" stroke-width="0.85"/><circle cx="848.20" cy="327.30" r="1.4" fill="#fff" stroke="#6868f0" stroke-width="0.85"/><circle cx="850.48" cy="327.57" r="1.4" fill="#fff" stroke="#6868f0" stroke-width="0.85"/><circle cx="852.75" cy="327.85" r="1.4" fill="#fff" stroke="#6868f0" stroke-width="0.85"/><circle cx="855.02" cy="328.12" r="1.4" fill="#fff" stroke="#6868f0" stroke-width="0.85"/><circle cx="857.30" cy="328.40" r="1.4" fill="#fff" stroke="#6868f0" stroke-width="0.85"/><circle cx="859.56" cy="328.54" r="1.4" fill="#fff" stroke="#6868f0" stroke-width="0.85"/><circle cx="861.82" cy="328.26" r="1.4" fill="#fff" stroke="#6868f0" stroke-width="0.85"/><circle cx="864.08" cy="328.06" r="1.4" fill="#fff" stroke="#6868f0" stroke-width="0.85"/><circle cx="866.34" cy="328.68" r="1.4" fill="#fff" stroke="#6868f0" stroke-width="0.85"/><circle cx="868.60" cy="328.52" r="1.4" fill="#fff" stroke="#6868f0" stroke-width="0.85"/><circle cx="870.88" cy="329.16" r="1.4" fill="#fff" stroke="#6868f0" stroke-width="0.85"/><circle cx="873.16" cy="329.98" r="1.4" fill="#fff" stroke="#6868f0" stroke-width="0.85"/><circle cx="875.44" cy="329.50" r="1.4" fill="#fff" stroke="#6868f0" stroke-width="0.85"/><circle cx="877.72" cy="328.75" r="1.4" fill="#fff" stroke="#6868f0" stroke-width="0.85"/><circle cx="880.00" cy="329.93" r="1.4" fill="#fff" stroke="#6868f0" stroke-width="0.85"/><circle cx="882.39" cy="329.88" r="1.4" fill="#fff" stroke="#6868f0" stroke-width="0.85"/><circle cx="884.78" cy="329.90" r="1.4" fill="#fff" stroke="#6868f0" stroke-width="0.85"/><circle cx="887.17" cy="330.28" r="1.4" fill="#fff" stroke="#6868f0" stroke-width="0.85"/><circle cx="889.56" cy="330.16" r="1.4" fill="#fff" stroke="#6868f0" stroke-width="0.85"/><circle cx="891.95" cy="330.31" r="1.4" fill="#fff" stroke="#6868f0" stroke-width="0.85"/><circle cx="894.34" cy="329.73" r="1.4" fill="#fff" stroke="#6868f0" stroke-width="0.85"/><circle cx="896.73" cy="330.84" r="1.4" fill="#fff" stroke="#6868f0" stroke-width="0.85"/><circle cx="899.12" cy="330.92" r="1.4" fill="#fff" stroke="#6868f0" stroke-width="0.85"/><circle cx="901.51" cy="329.75" r="1.4" fill="#fff" stroke="#6868f0" stroke-width="0.85"/><circle cx="903.90" cy="330.81" r="1.4" fill="#fff" stroke="#6868f0" stroke-width="0.85"/><circle cx="906.29" cy="330.91" r="1.4" fill="#fff" stroke="#6868f0" stroke-width="0.85"/><circle cx="908.68" cy="330.68" r="1.4" fill="#fff" stroke="#6868f0" stroke-width="0.85"/><circle cx="911.07" cy="330.96" r="1.4" fill="#fff" stroke="#6868f0" stroke-width="0.85"/><circle cx="913.46" cy="331.06" r="1.4" fill="#fff" stroke="#6868f0" stroke-width="0.85"/><circle cx="915.85" cy="331.93" r="1.4" fill="#fff" stroke="#6868f0" stroke-width="0.85"/><circle cx="918.24" cy="331.42" r="1.4" fill="#fff" stroke="#6868f0" stroke-width="0.85"/><circle cx="920.63" cy="332.12" r="1.4" fill="#fff" stroke="#6868f0" stroke-width="0.85"/><circle cx="923.02" cy="331.53" r="1.4" fill="#fff" stroke="#6868f0" stroke-width="0.85"/><circle cx="925.41" cy="332.54" r="1.4" fill="#fff" stroke="#6868f0" stroke-width="0.85"/><circle cx="927.80" cy="332.74" r="1.4" fill="#fff" stroke="#6868f0" stroke-width="0.85"/><circle cx="930.19" cy="332.14" r="1.4" fill="#fff" stroke="#6868f0" stroke-width="0.85"/><circle cx="932.59" cy="332.41" r="1.4" fill="#fff" stroke="#6868f0" stroke-width="0.85"/><circle cx="934.98" cy="333.07" r="1.4" fill="#fff" stroke="#6868f0" stroke-width="0.85"/><circle cx="937.38" cy="332.86" r="1.4" fill="#fff" stroke="#6868f0" stroke-width="0.85"/><circle cx="939.77" cy="332.58" r="1.4" fill="#fff" stroke="#6868f0" stroke-width="0.85"/><circle cx="942.16" cy="332.25" r="1.4" fill="#fff" stroke="#6868f0" stroke-width="0.85"/><circle cx="944.56" cy="332.52" r="1.4" fill="#fff" stroke="#6868f0" stroke-width="0.85"/><circle cx="946.95" cy="333.22" r="1.4" fill="#fff" stroke="#6868f0" stroke-width="0.85"/><circle cx="949.35" cy="332.47" r="1.4" fill="#fff" stroke="#6868f0" stroke-width="0.85"/><circle cx="951.74" cy="333.75" r="1.4" fill="#fff" stroke="#6868f0" stroke-width="0.85"/><circle cx="954.14" cy="332.83" r="1.4" fill="#fff" stroke="#6868f0" stroke-width="0.85"/><circle cx="956.53" cy="333.96" r="1.4" fill="#fff" stroke="#6868f0" stroke-width="0.85"/><circle cx="958.92" cy="333.10" r="1.4" fill="#fff" stroke="#6868f0" stroke-width="0.85"/><circle cx="961.32" cy="334.23" r="1.4" fill="#fff" stroke="#6868f0" stroke-width="0.85"/><circle cx="963.71" cy="333.93" r="1.4" fill="#fff" stroke="#6868f0" stroke-width="0.85"/><circle cx="966.11" cy="333.71" r="1.4" fill="#fff" stroke="#6868f0" stroke-width="0.85"/><circle cx="968.50" cy="333.83" r="1.4" fill="#fff" stroke="#6868f0" stroke-width="0.85"/><circle cx="970.89" cy="334.03" r="1.4" fill="#fff" stroke="#6868f0" stroke-width="0.85"/><circle cx="973.29" cy="333.91" r="1.4" fill="#fff" stroke="#6868f0" stroke-width="0.85"/><circle cx="975.68" cy="333.45" r="1.4" fill="#fff" stroke="#6868f0" stroke-width="0.85"/><circle cx="978.08" cy="333.27" r="1.4" fill="#fff" stroke="#6868f0" stroke-width="0.85"/><circle cx="980.47" cy="333.74" r="1.4" fill="#fff" stroke="#6868f0" stroke-width="0.85"/><circle cx="982.87" cy="334.40" r="1.4" fill="#fff" stroke="#6868f0" stroke-width="0.85"/><circle cx="985.26" cy="333.89" r="1.4" fill="#fff" stroke="#6868f0" stroke-width="0.85"/><circle cx="987.66" cy="332.99" r="1.4" fill="#fff" stroke="#6868f0" stroke-width="0.85"/><circle cx="990.05" cy="334.17" r="1.4" fill="#fff" stroke="#6868f0" stroke-width="0.85"/><circle cx="992.45" cy="334.00" r="1.4" fill="#fff" stroke="#6868f0" stroke-width="0.85"/><circle cx="994.84" cy="334.28" r="1.4" fill="#fff" stroke="#6868f0" stroke-width="0.85"/><circle cx="997.24" cy="333.12" r="1.4" fill="#fff" stroke="#6868f0" stroke-width="0.85"/><circle cx="999.63" cy="333.99" r="1.4" fill="#fff" stroke="#6868f0" stroke-width="0.85"/><circle cx="1002.03" cy="332.87" r="1.4" fill="#fff" stroke="#6868f0" stroke-width="0.85"/><circle cx="1004.42" cy="333.81" r="1.4" fill="#fff" stroke="#6868f0" stroke-width="0.85"/><circle cx="1006.82" cy="333.18" r="1.4" fill="#fff" stroke="#6868f0" stroke-width="0.85"/><circle cx="1009.21" cy="333.09" r="1.4" fill="#fff" stroke="#6868f0" stroke-width="0.85"/><circle cx="1011.61" cy="334.12" r="1.4" fill="#fff" stroke="#6868f0" stroke-width="0.85"/><path d="M632.60 333.77L635.10 337.87L630.10 337.87Z" fill="none" stroke="#ea6464" stroke-width="0.9"/><path d="M641.90 333.77L644.40 337.87L639.40 337.87Z" fill="none" stroke="#ea6464" stroke-width="0.9"/><path d="M651.30 333.77L653.80 337.87L648.80 337.87Z" fill="none" stroke="#ea6464" stroke-width="0.9"/><path d="M660.90 333.77L663.40 337.87L658.40 337.87Z" fill="none" stroke="#ea6464" stroke-width="0.9"/><path d="M670.00 332.80L672.50 336.90L667.50 336.90Z" fill="none" stroke="#ea6464" stroke-width="0.9"/><path d="M672.31 333.38L674.81 337.48L669.81 337.48Z" fill="none" stroke="#ea6464" stroke-width="0.9"/><path d="M674.62 333.09L677.12 337.19L672.12 337.19Z" fill="none" stroke="#ea6464" stroke-width="0.9"/><path d="M676.92 333.55L679.42 337.65L674.42 337.65Z" fill="none" stroke="#ea6464" stroke-width="0.9"/><path d="M679.23 333.62L681.73 337.72L676.73 337.72Z" fill="none" stroke="#ea6464" stroke-width="0.9"/><path d="M681.54 332.64L684.04 336.74L679.04 336.74Z" fill="none" stroke="#ea6464" stroke-width="0.9"/><path d="M683.85 332.57L686.35 336.67L681.35 336.67Z" fill="none" stroke="#ea6464" stroke-width="0.9"/><path d="M686.15 334.09L688.65 338.19L683.65 338.19Z" fill="none" stroke="#ea6464" stroke-width="0.9"/><path d="M688.46 333.08L690.96 337.18L685.96 337.18Z" fill="none" stroke="#ea6464" stroke-width="0.9"/><path d="M690.77 333.07L693.27 337.17L688.27 337.17Z" fill="none" stroke="#ea6464" stroke-width="0.9"/><path d="M693.08 334.47L695.58 338.57L690.58 338.57Z" fill="none" stroke="#ea6464" stroke-width="0.9"/><path d="M695.38 333.55L697.88 337.65L692.88 337.65Z" fill="none" stroke="#ea6464" stroke-width="0.9"/><path d="M697.69 334.24L700.19 338.34L695.19 338.34Z" fill="none" stroke="#ea6464" stroke-width="0.9"/><path d="M700.00 333.62L702.50 337.72L697.50 337.72Z" fill="none" stroke="#ea6464" stroke-width="0.9"/><path d="M702.27 333.87L704.77 337.97L699.77 337.97Z" fill="none" stroke="#ea6464" stroke-width="0.9"/><path d="M704.54 332.94L707.04 337.04L702.04 337.04Z" fill="none" stroke="#ea6464" stroke-width="0.9"/><path d="M706.81 333.76L709.31 337.86L704.31 337.86Z" fill="none" stroke="#ea6464" stroke-width="0.9"/><path d="M709.08 334.13L711.58 338.23L706.58 338.23Z" fill="none" stroke="#ea6464" stroke-width="0.9"/><path d="M711.35 333.46L713.85 337.56L708.85 337.56Z" fill="none" stroke="#ea6464" stroke-width="0.9"/><path d="M713.62 333.80L716.12 337.90L711.12 337.90Z" fill="none" stroke="#ea6464" stroke-width="0.9"/><path d="M715.89 333.63L718.39 337.73L713.39 337.73Z" fill="none" stroke="#ea6464" stroke-width="0.9"/><path d="M718.16 332.48L720.66 336.58L715.66 336.58Z" fill="none" stroke="#ea6464" stroke-width="0.9"/><path d="M720.43 333.68L722.93 337.78L717.93 337.78Z" fill="none" stroke="#ea6464" stroke-width="0.9"/><path d="M722.70 333.33L725.20 337.43L720.20 337.43Z" fill="none" stroke="#ea6464" stroke-width="0.9"/><path d="M724.98 332.72L727.48 336.82L722.48 336.82Z" fill="none" stroke="#ea6464" stroke-width="0.9"/><path d="M727.26 332.14L729.76 336.24L724.76 336.24Z" fill="none" stroke="#ea6464" stroke-width="0.9"/><path d="M729.54 333.55L732.04 337.65L727.04 337.65Z" fill="none" stroke="#ea6464" stroke-width="0.9"/><path d="M731.82 332.76L734.32 336.86L729.32 336.86Z" fill="none" stroke="#ea6464" stroke-width="0.9"/><path d="M734.10 333.11L736.60 337.21L731.60 337.21Z" fill="none" stroke="#ea6464" stroke-width="0.9"/><path d="M736.38 333.31L738.88 337.41L733.88 337.41Z" fill="none" stroke="#ea6464" stroke-width="0.9"/><path d="M738.66 332.92L741.16 337.02L736.16 337.02Z" fill="none" stroke="#ea6464" stroke-width="0.9"/><path d="M740.94 333.20L743.44 337.30L738.44 337.30Z" fill="none" stroke="#ea6464" stroke-width="0.9"/><path d="M743.22 332.17L745.72 336.27L740.72 336.27Z" fill="none" stroke="#ea6464" stroke-width="0.9"/><path d="M745.50 332.27L748.00 336.37L743.00 336.37Z" fill="none" stroke="#ea6464" stroke-width="0.9"/><path d="M747.76 332.11L750.26 336.21L745.26 336.21Z" fill="none" stroke="#ea6464" stroke-width="0.9"/><path d="M750.02 331.95L752.52 336.05L747.52 336.05Z" fill="none" stroke="#ea6464" stroke-width="0.9"/><path d="M752.28 331.79L754.78 335.89L749.78 335.89Z" fill="none" stroke="#ea6464" stroke-width="0.9"/><path d="M754.54 331.63L757.04 335.73L752.04 335.73Z" fill="none" stroke="#ea6464" stroke-width="0.9"/><path d="M756.80 331.47L759.30 335.57L754.30 335.57Z" fill="none" stroke="#ea6464" stroke-width="0.9"/><path d="M759.08 331.03L761.58 335.13L756.58 335.13Z" fill="none" stroke="#ea6464" stroke-width="0.9"/><path d="M761.36 330.59L763.86 334.69L758.86 334.69Z" fill="none" stroke="#ea6464" stroke-width="0.9"/><path d="M763.64 330.15L766.14 334.25L761.14 334.25Z" fill="none" stroke="#ea6464" stroke-width="0.9"/><path d="M765.92 329.71L768.42 333.81L763.42 333.81Z" fill="none" stroke="#ea6464" stroke-width="0.9"/><path d="M768.20 329.27L770.70 333.37L765.70 333.37Z" fill="none" stroke="#ea6464" stroke-width="0.9"/><path d="M770.46 328.63L772.96 332.73L767.96 332.73Z" fill="none" stroke="#ea6464" stroke-width="0.9"/><path d="M772.72 327.99L775.22 332.09L770.22 332.09Z" fill="none" stroke="#ea6464" stroke-width="0.9"/><path d="M774.98 327.35L777.48 331.45L772.48 331.45Z" fill="none" stroke="#ea6464" stroke-width="0.9"/><path d="M777.24 326.71L779.74 330.81L774.74 330.81Z" fill="none" stroke="#ea6464" stroke-width="0.9"/><path d="M779.50 326.07L782.00 330.17L777.00 330.17Z" fill="none" stroke="#ea6464" stroke-width="0.9"/><path d="M782.12 325.32L784.62 329.42L779.62 329.42Z" fill="none" stroke="#ea6464" stroke-width="0.9"/><path d="M784.75 324.57L787.25 328.67L782.25 328.67Z" fill="none" stroke="#ea6464" stroke-width="0.9"/><path d="M787.38 323.82L789.88 327.92L784.88 327.92Z" fill="none" stroke="#ea6464" stroke-width="0.9"/><path d="M790.00 323.07L792.50 327.17L787.50 327.17Z" fill="none" stroke="#ea6464" stroke-width="0.9"/><path d="M792.50 322.02L795.00 326.12L790.00 326.12Z" fill="none" stroke="#ea6464" stroke-width="0.9"/><path d="M795.00 320.97L797.50 325.07L792.50 325.07Z" fill="none" stroke="#ea6464" stroke-width="0.9"/><path d="M797.50 319.92L800.00 324.02L795.00 324.02Z" fill="none" stroke="#ea6464" stroke-width="0.9"/><path d="M800.00 318.87L802.50 322.97L797.50 322.97Z" fill="none" stroke="#ea6464" stroke-width="0.9"/><path d="M802.50 317.82L805.00 321.92L800.00 321.92Z" fill="none" stroke="#ea6464" stroke-width="0.9"/><path d="M805.00 316.77L807.50 320.87L802.50 320.87Z" fill="none" stroke="#ea6464" stroke-width="0.9"/><path d="M807.27 315.59L809.77 319.69L804.77 319.69Z" fill="none" stroke="#ea6464" stroke-width="0.9"/><path d="M809.55 314.42L812.05 318.52L807.05 318.52Z" fill="none" stroke="#ea6464" stroke-width="0.9"/><path d="M811.83 313.24L814.33 317.34L809.33 317.34Z" fill="none" stroke="#ea6464" stroke-width="0.9"/><path d="M814.10 312.07L816.60 316.17L811.60 316.17Z" fill="none" stroke="#ea6464" stroke-width="0.9"/><path d="M816.73 310.13L819.23 314.23L814.23 314.23Z" fill="none" stroke="#ea6464" stroke-width="0.9"/><path d="M819.37 308.20L821.87 312.30L816.87 312.30Z" fill="none" stroke="#ea6464" stroke-width="0.9"/><path d="M822.00 306.27L824.50 310.37L819.50 310.37Z" fill="none" stroke="#ea6464" stroke-width="0.9"/><path d="M824.85 303.37L827.35 307.47L822.35 307.47Z" fill="none" stroke="#ea6464" stroke-width="0.9"/><path d="M827.70 300.47L830.20 304.57L825.20 304.57Z" fill="none" stroke="#ea6464" stroke-width="0.9"/><path d="M830.00 297.17L832.50 301.27L827.50 301.27Z" fill="none" stroke="#ea6464" stroke-width="0.9"/><path d="M832.30 293.87L834.80 297.97L829.80 297.97Z" fill="none" stroke="#ea6464" stroke-width="0.9"/><path d="M835.70 287.77L838.20 291.87L833.20 291.87Z" fill="none" stroke="#ea6464" stroke-width="0.9"/><path d="M838.00 282.47L840.50 286.57L835.50 286.57Z" fill="none" stroke="#ea6464" stroke-width="0.9"/><path d="M840.20 276.77L842.70 280.87L837.70 280.87Z" fill="none" stroke="#ea6464" stroke-width="0.9"/><path d="M842.50 271.17L845.00 275.27L840.00 275.27Z" fill="none" stroke="#ea6464" stroke-width="0.9"/><path d="M844.80 264.97L847.30 269.07L842.30 269.07Z" fill="none" stroke="#ea6464" stroke-width="0.9"/><path d="M847.70 258.67L850.20 262.77L845.20 262.77Z" fill="none" stroke="#ea6464" stroke-width="0.9"/><path d="M850.50 256.27L853.00 260.37L848.00 260.37Z" fill="none" stroke="#ea6464" stroke-width="0.9"/><path d="M852.70 252.67L855.20 256.77L850.20 256.77Z" fill="none" stroke="#ea6464" stroke-width="0.9"/><path d="M855.20 246.57L857.70 250.67L852.70 250.67Z" fill="none" stroke="#ea6464" stroke-width="0.9"/><path d="M857.70 239.97L860.20 244.07L855.20 244.07Z" fill="none" stroke="#ea6464" stroke-width="0.9"/><path d="M860.20 230.57L862.70 234.67L857.70 234.67Z" fill="none" stroke="#ea6464" stroke-width="0.9"/><path d="M862.40 222.27L864.90 226.37L859.90 226.37Z" fill="none" stroke="#ea6464" stroke-width="0.9"/><path d="M864.90 212.07L867.40 216.17L862.40 216.17Z" fill="none" stroke="#ea6464" stroke-width="0.9"/><path d="M867.10 190.87L869.60 194.97L864.60 194.97Z" fill="none" stroke="#ea6464" stroke-width="0.9"/><path d="M869.30 177.57L871.80 181.67L866.80 181.67Z" fill="none" stroke="#ea6464" stroke-width="0.9"/><path d="M871.80 162.47L874.30 166.57L869.30 166.57Z" fill="none" stroke="#ea6464" stroke-width="0.9"/><path d="M874.30 140.57L876.80 144.67L871.80 144.67Z" fill="none" stroke="#ea6464" stroke-width="0.9"/><path d="M876.80 120.97L879.30 125.07L874.30 125.07Z" fill="none" stroke="#ea6464" stroke-width="0.9"/><path d="M879.20 96.97L881.70 101.07L876.70 101.07Z" fill="none" stroke="#ea6464" stroke-width="0.9"/><path d="M881.40 79.27L883.90 83.37L878.90 83.37Z" fill="none" stroke="#ea6464" stroke-width="0.9"/><path d="M884.20 66.27L886.70 70.37L881.70 70.37Z" fill="none" stroke="#ea6464" stroke-width="0.9"/><path d="M886.50 64.97L889.00 69.07L884.00 69.07Z" fill="none" stroke="#ea6464" stroke-width="0.9"/><path d="M888.60 77.47L891.10 81.57L886.10 81.57Z" fill="none" stroke="#ea6464" stroke-width="0.9"/><path d="M891.20 96.37L893.70 100.47L888.70 100.47Z" fill="none" stroke="#ea6464" stroke-width="0.9"/><path d="M893.50 126.57L896.00 130.67L891.00 130.67Z" fill="none" stroke="#ea6464" stroke-width="0.9"/><path d="M895.90 162.27L898.40 166.37L893.40 166.37Z" fill="none" stroke="#ea6464" stroke-width="0.9"/><path d="M898.40 205.87L900.90 209.97L895.90 209.97Z" fill="none" stroke="#ea6464" stroke-width="0.9"/><path d="M900.80 247.47L903.30 251.57L898.30 251.57Z" fill="none" stroke="#ea6464" stroke-width="0.9"/><path d="M903.20 279.17L905.70 283.27L900.70 283.27Z" fill="none" stroke="#ea6464" stroke-width="0.9"/><path d="M905.60 298.97L908.10 303.07L903.10 303.07Z" fill="none" stroke="#ea6464" stroke-width="0.9"/><path d="M908.00 308.37L910.50 312.47L905.50 312.47Z" fill="none" stroke="#ea6464" stroke-width="0.9"/><path d="M910.40 315.07L912.90 319.17L907.90 319.17Z" fill="none" stroke="#ea6464" stroke-width="0.9"/><path d="M912.80 319.77L915.30 323.87L910.30 323.87Z" fill="none" stroke="#ea6464" stroke-width="0.9"/><path d="M914.95 323.37L917.45 327.47L912.45 327.47Z" fill="none" stroke="#ea6464" stroke-width="0.9"/><path d="M917.10 326.97L919.60 331.07L914.60 331.07Z" fill="none" stroke="#ea6464" stroke-width="0.9"/><path d="M919.50 328.77L922.00 332.87L917.00 332.87Z" fill="none" stroke="#ea6464" stroke-width="0.9"/><path d="M921.90 330.57L924.40 334.67L919.40 334.67Z" fill="none" stroke="#ea6464" stroke-width="0.9"/><path d="M924.04 330.95L926.54 335.05L921.54 335.05Z" fill="none" stroke="#ea6464" stroke-width="0.9"/><path d="M926.18 331.87L928.68 335.97L923.68 335.97Z" fill="none" stroke="#ea6464" stroke-width="0.9"/><path d="M928.32 331.61L930.82 335.71L925.82 335.71Z" fill="none" stroke="#ea6464" stroke-width="0.9"/><path d="M930.46 332.87L932.96 336.97L927.96 336.97Z" fill="none" stroke="#ea6464" stroke-width="0.9"/><path d="M932.60 333.15L935.10 337.25L930.10 337.25Z" fill="none" stroke="#ea6464" stroke-width="0.9"/><path d="M935.00 331.95L937.50 336.05L932.50 336.05Z" fill="none" stroke="#ea6464" stroke-width="0.9"/><path d="M937.40 332.24L939.90 336.34L934.90 336.34Z" fill="none" stroke="#ea6464" stroke-width="0.9"/><path d="M939.80 332.59L942.30 336.69L937.30 336.69Z" fill="none" stroke="#ea6464" stroke-width="0.9"/><path d="M942.20 334.15L944.70 338.25L939.70 338.25Z" fill="none" stroke="#ea6464" stroke-width="0.9"/><path d="M944.60 333.41L947.10 337.51L942.10 337.51Z" fill="none" stroke="#ea6464" stroke-width="0.9"/><path d="M947.00 333.97L949.50 338.07L944.50 338.07Z" fill="none" stroke="#ea6464" stroke-width="0.9"/><path d="M949.40 333.60L951.90 337.70L946.90 337.70Z" fill="none" stroke="#ea6464" stroke-width="0.9"/><path d="M951.80 334.18L954.30 338.28L949.30 338.28Z" fill="none" stroke="#ea6464" stroke-width="0.9"/><path d="M954.17 333.96L956.67 338.06L951.67 338.06Z" fill="none" stroke="#ea6464" stroke-width="0.9"/><path d="M956.53 333.90L959.03 338.00L954.03 338.00Z" fill="none" stroke="#ea6464" stroke-width="0.9"/><path d="M958.90 334.32L961.40 338.42L956.40 338.42Z" fill="none" stroke="#ea6464" stroke-width="0.9"/><path d="M961.27 334.32L963.77 338.42L958.77 338.42Z" fill="none" stroke="#ea6464" stroke-width="0.9"/><path d="M963.63 334.89L966.13 338.99L961.13 338.99Z" fill="none" stroke="#ea6464" stroke-width="0.9"/><path d="M966.00 334.49L968.50 338.59L963.50 338.59Z" fill="none" stroke="#ea6464" stroke-width="0.9"/><path d="M968.40 334.97L970.90 339.07L965.90 339.07Z" fill="none" stroke="#ea6464" stroke-width="0.9"/><path d="M970.80 334.87L973.30 338.97L968.30 338.97Z" fill="none" stroke="#ea6464" stroke-width="0.9"/><path d="M973.20 335.14L975.70 339.24L970.70 339.24Z" fill="none" stroke="#ea6464" stroke-width="0.9"/><path d="M975.60 334.59L978.10 338.69L973.10 338.69Z" fill="none" stroke="#ea6464" stroke-width="0.9"/><path d="M978.00 333.71L980.50 337.81L975.50 337.81Z" fill="none" stroke="#ea6464" stroke-width="0.9"/><path d="M980.40 335.00L982.90 339.10L977.90 339.10Z" fill="none" stroke="#ea6464" stroke-width="0.9"/><path d="M982.80 335.21L985.30 339.31L980.30 339.31Z" fill="none" stroke="#ea6464" stroke-width="0.9"/><path d="M985.20 335.14L987.70 339.24L982.70 339.24Z" fill="none" stroke="#ea6464" stroke-width="0.9"/><path d="M987.60 334.56L990.10 338.66L985.10 338.66Z" fill="none" stroke="#ea6464" stroke-width="0.9"/><path d="M990.00 334.85L992.50 338.95L987.50 338.95Z" fill="none" stroke="#ea6464" stroke-width="0.9"/><path d="M992.40 333.98L994.90 338.08L989.90 338.08Z" fill="none" stroke="#ea6464" stroke-width="0.9"/><path d="M994.80 335.12L997.30 339.22L992.30 339.22Z" fill="none" stroke="#ea6464" stroke-width="0.9"/><path d="M997.20 334.69L999.70 338.79L994.70 338.79Z" fill="none" stroke="#ea6464" stroke-width="0.9"/><path d="M999.60 334.20L1002.10 338.30L997.10 338.30Z" fill="none" stroke="#ea6464" stroke-width="0.9"/><path d="M1002.00 333.83L1004.50 337.93L999.50 337.93Z" fill="none" stroke="#ea6464" stroke-width="0.9"/><path d="M1004.40 335.28L1006.90 339.38L1001.90 339.38Z" fill="none" stroke="#ea6464" stroke-width="0.9"/><path d="M1006.80 335.56L1009.30 339.66L1004.30 339.66Z" fill="none" stroke="#ea6464" stroke-width="0.9"/><path d="M1009.20 333.97L1011.70 338.07L1006.70 338.07Z" fill="none" stroke="#ea6464" stroke-width="0.9"/><path d="M1011.60 335.28L1014.10 339.38L1009.10 339.38Z" fill="none" stroke="#ea6464" stroke-width="0.9"/><path d="M632.60 339.20L635.20 335.15L630.00 335.15Z" fill="none" stroke="#5ae65a" stroke-width="0.9"/><path d="M641.90 339.20L644.50 335.15L639.30 335.15Z" fill="none" stroke="#5ae65a" stroke-width="0.9"/><path d="M651.30 339.20L653.90 335.15L648.70 335.15Z" fill="none" stroke="#5ae65a" stroke-width="0.9"/><path d="M660.90 339.20L663.50 335.15L658.30 335.15Z" fill="none" stroke="#5ae65a" stroke-width="0.9"/><path d="M670.00 339.17L672.60 335.11L667.40 335.11Z" fill="none" stroke="#5ae65a" stroke-width="0.9"/><path d="M672.31 338.74L674.91 334.68L669.71 334.68Z" fill="none" stroke="#5ae65a" stroke-width="0.9"/><path d="M674.62 339.32L677.22 335.27L672.02 335.27Z" fill="none" stroke="#5ae65a" stroke-width="0.9"/><path d="M676.92 338.63L679.52 334.57L674.32 334.57Z" fill="none" stroke="#5ae65a" stroke-width="0.9"/><path d="M679.23 338.30L681.83 334.25L676.63 334.25Z" fill="none" stroke="#5ae65a" stroke-width="0.9"/><path d="M681.54 338.99L684.14 334.93L678.94 334.93Z" fill="none" stroke="#5ae65a" stroke-width="0.9"/><path d="M683.85 340.11L686.45 336.06L681.25 336.06Z" fill="none" stroke="#5ae65a" stroke-width="0.9"/><path d="M686.15 339.72L688.75 335.66L683.55 335.66Z" fill="none" stroke="#5ae65a" stroke-width="0.9"/><path d="M688.46 339.52L691.06 335.46L685.86 335.46Z" fill="none" stroke="#5ae65a" stroke-width="0.9"/><path d="M690.77 338.10L693.37 334.04L688.17 334.04Z" fill="none" stroke="#5ae65a" stroke-width="0.9"/><path d="M693.08 338.74L695.68 334.68L690.48 334.68Z" fill="none" stroke="#5ae65a" stroke-width="0.9"/><path d="M695.38 338.00L697.98 333.94L692.78 333.94Z" fill="none" stroke="#5ae65a" stroke-width="0.9"/><path d="M697.69 337.63L700.29 333.58L695.09 333.58Z" fill="none" stroke="#5ae65a" stroke-width="0.9"/><path d="M700.00 337.36L702.60 333.30L697.40 333.30Z" fill="none" stroke="#5ae65a" stroke-width="0.9"/><path d="M702.28 337.78L704.88 333.72L699.68 333.72Z" fill="none" stroke="#5ae65a" stroke-width="0.9"/><path d="M704.56 339.65L707.16 335.59L701.96 335.59Z" fill="none" stroke="#5ae65a" stroke-width="0.9"/><path d="M706.84 339.57L709.44 335.52L704.24 335.52Z" fill="none" stroke="#5ae65a" stroke-width="0.9"/><path d="M709.12 339.68L711.72 335.62L706.52 335.62Z" fill="none" stroke="#5ae65a" stroke-width="0.9"/><path d="M711.40 339.83L714.00 335.77L708.80 335.77Z" fill="none" stroke="#5ae65a" stroke-width="0.9"/><path d="M713.66 338.17L716.26 334.11L711.06 334.11Z" fill="none" stroke="#5ae65a" stroke-width="0.9"/><path d="M715.92 338.25L718.52 334.19L713.32 334.19Z" fill="none" stroke="#5ae65a" stroke-width="0.9"/><path d="M718.18 338.81L720.78 334.75L715.58 334.75Z" fill="none" stroke="#5ae65a" stroke-width="0.9"/><path d="M720.44 338.86L723.04 334.80L717.84 334.80Z" fill="none" stroke="#5ae65a" stroke-width="0.9"/><path d="M722.70 338.96L725.30 334.90L720.10 334.90Z" fill="none" stroke="#5ae65a" stroke-width="0.9"/><path d="M724.98 338.84L727.58 334.78L722.38 334.78Z" fill="none" stroke="#5ae65a" stroke-width="0.9"/><path d="M727.26 336.75L729.86 332.70L724.66 332.70Z" fill="none" stroke="#5ae65a" stroke-width="0.9"/><path d="M729.54 337.82L732.14 333.76L726.94 333.76Z" fill="none" stroke="#5ae65a" stroke-width="0.9"/><path d="M731.82 337.80L734.42 333.74L729.22 333.74Z" fill="none" stroke="#5ae65a" stroke-width="0.9"/><path d="M734.10 337.22L736.70 333.16L731.50 333.16Z" fill="none" stroke="#5ae65a" stroke-width="0.9"/><path d="M736.38 335.88L738.98 331.82L733.77 331.82Z" fill="none" stroke="#5ae65a" stroke-width="0.9"/><path d="M738.65 336.04L741.25 331.98L736.05 331.98Z" fill="none" stroke="#5ae65a" stroke-width="0.9"/><path d="M740.93 334.57L743.53 330.51L738.33 330.51Z" fill="none" stroke="#5ae65a" stroke-width="0.9"/><path d="M743.20 335.00L745.80 330.95L740.60 330.95Z" fill="none" stroke="#5ae65a" stroke-width="0.9"/><path d="M746.05 333.05L748.65 329.00L743.45 329.00Z" fill="none" stroke="#5ae65a" stroke-width="0.9"/><path d="M748.90 331.10L751.50 327.05L746.30 327.05Z" fill="none" stroke="#5ae65a" stroke-width="0.9"/><path d="M751.70 328.85L754.30 324.80L749.10 324.80Z" fill="none" stroke="#5ae65a" stroke-width="0.9"/><path d="M754.50 326.60L757.10 322.55L751.90 322.55Z" fill="none" stroke="#5ae65a" stroke-width="0.9"/><path d="M757.00 324.30L759.60 320.25L754.40 320.25Z" fill="none" stroke="#5ae65a" stroke-width="0.9"/><path d="M759.50 322.00L762.10 317.95L756.90 317.95Z" fill="none" stroke="#5ae65a" stroke-width="0.9"/><path d="M762.15 319.75L764.75 315.70L759.55 315.70Z" fill="none" stroke="#5ae65a" stroke-width="0.9"/><path d="M764.80 317.50L767.40 313.45L762.20 313.45Z" fill="none" stroke="#5ae65a" stroke-width="0.9"/><path d="M767.05 314.85L769.65 310.80L764.45 310.80Z" fill="none" stroke="#5ae65a" stroke-width="0.9"/><path d="M769.30 312.20L771.90 308.15L766.70 308.15Z" fill="none" stroke="#5ae65a" stroke-width="0.9"/><path d="M771.25 309.70L773.85 305.65L768.65 305.65Z" fill="none" stroke="#5ae65a" stroke-width="0.9"/><path d="M773.20 307.20L775.80 303.15L770.60 303.15Z" fill="none" stroke="#5ae65a" stroke-width="0.9"/><path d="M775.25 303.80L777.85 299.75L772.65 299.75Z" fill="none" stroke="#5ae65a" stroke-width="0.9"/><path d="M777.30 300.40L779.90 296.35L774.70 296.35Z" fill="none" stroke="#5ae65a" stroke-width="0.9"/><path d="M780.70 294.70L783.30 290.65L778.10 290.65Z" fill="none" stroke="#5ae65a" stroke-width="0.9"/><path d="M784.10 290.20L786.70 286.15L781.50 286.15Z" fill="none" stroke="#5ae65a" stroke-width="0.9"/><path d="M787.50 289.10L790.10 285.05L784.90 285.05Z" fill="none" stroke="#5ae65a" stroke-width="0.9"/><path d="M791.00 289.50L793.60 285.45L788.40 285.45Z" fill="none" stroke="#5ae65a" stroke-width="0.9"/><path d="M793.23 289.27L795.83 285.21L790.63 285.21Z" fill="none" stroke="#5ae65a" stroke-width="0.9"/><path d="M795.47 289.04L798.07 284.98L792.87 284.98Z" fill="none" stroke="#5ae65a" stroke-width="0.9"/><path d="M797.70 288.80L800.30 284.75L795.10 284.75Z" fill="none" stroke="#5ae65a" stroke-width="0.9"/><path d="M800.40 287.25L803.00 283.20L797.80 283.20Z" fill="none" stroke="#5ae65a" stroke-width="0.9"/><path d="M803.10 285.70L805.70 281.65L800.50 281.65Z" fill="none" stroke="#5ae65a" stroke-width="0.9"/><path d="M806.30 282.70L808.90 278.65L803.70 278.65Z" fill="none" stroke="#5ae65a" stroke-width="0.9"/><path d="M809.10 278.10L811.70 274.05L806.50 274.05Z" fill="none" stroke="#5ae65a" stroke-width="0.9"/><path d="M811.70 271.60L814.30 267.55L809.10 267.55Z" fill="none" stroke="#5ae65a" stroke-width="0.9"/><path d="M814.30 265.10L816.90 261.05L811.70 261.05Z" fill="none" stroke="#5ae65a" stroke-width="0.9"/><path d="M816.40 257.60L819.00 253.55L813.80 253.55Z" fill="none" stroke="#5ae65a" stroke-width="0.9"/><path d="M818.80 249.00L821.40 244.95L816.20 244.95Z" fill="none" stroke="#5ae65a" stroke-width="0.9"/><path d="M821.40 241.00L824.00 236.95L818.80 236.95Z" fill="none" stroke="#5ae65a" stroke-width="0.9"/><path d="M824.20 234.60L826.80 230.55L821.60 230.55Z" fill="none" stroke="#5ae65a" stroke-width="0.9"/><path d="M826.30 225.00L828.90 220.95L823.70 220.95Z" fill="none" stroke="#5ae65a" stroke-width="0.9"/><path d="M828.50 219.90L831.10 215.85L825.90 215.85Z" fill="none" stroke="#5ae65a" stroke-width="0.9"/><path d="M831.10 219.00L833.70 214.95L828.50 214.95Z" fill="none" stroke="#5ae65a" stroke-width="0.9"/><path d="M833.60 223.20L836.20 219.15L831.00 219.15Z" fill="none" stroke="#5ae65a" stroke-width="0.9"/><path d="M835.80 231.80L838.40 227.75L833.20 227.75Z" fill="none" stroke="#5ae65a" stroke-width="0.9"/><path d="M838.00 245.70L840.60 241.65L835.40 241.65Z" fill="none" stroke="#5ae65a" stroke-width="0.9"/><path d="M840.70 258.30L843.30 254.25L838.10 254.25Z" fill="none" stroke="#5ae65a" stroke-width="0.9"/><path d="M842.90 268.40L845.50 264.35L840.30 264.35Z" fill="none" stroke="#5ae65a" stroke-width="0.9"/><path d="M845.10 274.80L847.70 270.75L842.50 270.75Z" fill="none" stroke="#5ae65a" stroke-width="0.9"/><path d="M847.20 278.10L849.80 274.05L844.60 274.05Z" fill="none" stroke="#5ae65a" stroke-width="0.9"/><path d="M849.60 279.40L852.20 275.35L847.00 275.35Z" fill="none" stroke="#5ae65a" stroke-width="0.9"/><path d="M852.00 278.80L854.60 274.75L849.40 274.75Z" fill="none" stroke="#5ae65a" stroke-width="0.9"/><path d="M854.40 278.20L857.00 274.15L851.80 274.15Z" fill="none" stroke="#5ae65a" stroke-width="0.9"/><path d="M856.75 276.40L859.35 272.35L854.15 272.35Z" fill="none" stroke="#5ae65a" stroke-width="0.9"/><path d="M859.10 274.60L861.70 270.55L856.50 270.55Z" fill="none" stroke="#5ae65a" stroke-width="0.9"/><path d="M861.50 271.60L864.10 267.55L858.90 267.55Z" fill="none" stroke="#5ae65a" stroke-width="0.9"/><path d="M863.90 268.60L866.50 264.55L861.30 264.55Z" fill="none" stroke="#5ae65a" stroke-width="0.9"/><path d="M865.70 265.95L868.30 261.90L863.10 261.90Z" fill="none" stroke="#5ae65a" stroke-width="0.9"/><path d="M867.50 263.30L870.10 259.25L864.90 259.25Z" fill="none" stroke="#5ae65a" stroke-width="0.9"/><path d="M870.60 260.90L873.20 256.85L868.00 256.85Z" fill="none" stroke="#5ae65a" stroke-width="0.9"/><path d="M872.65 265.00L875.25 260.95L870.05 260.95Z" fill="none" stroke="#5ae65a" stroke-width="0.9"/><path d="M874.70 269.10L877.30 265.05L872.10 265.05Z" fill="none" stroke="#5ae65a" stroke-width="0.9"/><path d="M877.10 281.70L879.70 277.65L874.50 277.65Z" fill="none" stroke="#5ae65a" stroke-width="0.9"/><path d="M878.80 292.50L881.40 288.45L876.20 288.45Z" fill="none" stroke="#5ae65a" stroke-width="0.9"/><path d="M881.40 304.50L884.00 300.45L878.80 300.45Z" fill="none" stroke="#5ae65a" stroke-width="0.9"/><path d="M883.80 314.00L886.40 309.95L881.20 309.95Z" fill="none" stroke="#5ae65a" stroke-width="0.9"/><path d="M886.60 320.70L889.20 316.65L884.00 316.65Z" fill="none" stroke="#5ae65a" stroke-width="0.9"/><path d="M889.00 322.45L891.60 318.40L886.40 318.40Z" fill="none" stroke="#5ae65a" stroke-width="0.9"/><path d="M891.40 324.20L894.00 320.15L888.80 320.15Z" fill="none" stroke="#5ae65a" stroke-width="0.9"/><path d="M893.97 325.14L896.57 321.08L891.37 321.08Z" fill="none" stroke="#5ae65a" stroke-width="0.9"/><path d="M896.53 327.11L899.13 323.06L893.93 323.06Z" fill="none" stroke="#5ae65a" stroke-width="0.9"/><path d="M899.10 327.88L901.70 323.83L896.50 323.83Z" fill="none" stroke="#5ae65a" stroke-width="0.9"/><path d="M901.50 327.49L904.10 323.43L898.90 323.43Z" fill="none" stroke="#5ae65a" stroke-width="0.9"/><path d="M903.90 327.27L906.50 323.21L901.30 323.21Z" fill="none" stroke="#5ae65a" stroke-width="0.9"/><path d="M906.30 329.10L908.90 325.04L903.70 325.04Z" fill="none" stroke="#5ae65a" stroke-width="0.9"/><path d="M908.70 328.66L911.30 324.61L906.10 324.61Z" fill="none" stroke="#5ae65a" stroke-width="0.9"/><path d="M911.10 329.78L913.70 325.72L908.50 325.72Z" fill="none" stroke="#5ae65a" stroke-width="0.9"/><path d="M913.50 330.07L916.10 326.01L910.90 326.01Z" fill="none" stroke="#5ae65a" stroke-width="0.9"/><path d="M915.90 329.62L918.50 325.57L913.30 325.57Z" fill="none" stroke="#5ae65a" stroke-width="0.9"/><path d="M918.29 329.75L920.89 325.69L915.69 325.69Z" fill="none" stroke="#5ae65a" stroke-width="0.9"/><path d="M920.68 330.54L923.28 326.49L918.08 326.49Z" fill="none" stroke="#5ae65a" stroke-width="0.9"/><path d="M923.07 330.49L925.67 326.43L920.47 326.43Z" fill="none" stroke="#5ae65a" stroke-width="0.9"/><path d="M925.46 330.19L928.06 326.14L922.86 326.14Z" fill="none" stroke="#5ae65a" stroke-width="0.9"/><path d="M927.85 330.89L930.45 326.83L925.25 326.83Z" fill="none" stroke="#5ae65a" stroke-width="0.9"/><path d="M930.24 332.45L932.84 328.40L927.64 328.40Z" fill="none" stroke="#5ae65a" stroke-width="0.9"/><path d="M932.63 330.96L935.23 326.90L930.03 326.90Z" fill="none" stroke="#5ae65a" stroke-width="0.9"/><path d="M935.02 331.32L937.62 327.26L932.42 327.26Z" fill="none" stroke="#5ae65a" stroke-width="0.9"/><path d="M937.41 333.06L940.01 329.00L934.81 329.00Z" fill="none" stroke="#5ae65a" stroke-width="0.9"/><path d="M939.80 332.58L942.40 328.52L937.20 328.52Z" fill="none" stroke="#5ae65a" stroke-width="0.9"/><path d="M942.19 333.41L944.79 329.35L939.59 329.35Z" fill="none" stroke="#5ae65a" stroke-width="0.9"/><path d="M944.58 333.47L947.18 329.42L941.98 329.42Z" fill="none" stroke="#5ae65a" stroke-width="0.9"/><path d="M946.97 333.38L949.57 329.33L944.37 329.33Z" fill="none" stroke="#5ae65a" stroke-width="0.9"/><path d="M949.36 335.17L951.96 331.11L946.76 331.11Z" fill="none" stroke="#5ae65a" stroke-width="0.9"/><path d="M951.75 333.46L954.35 329.41L949.15 329.41Z" fill="none" stroke="#5ae65a" stroke-width="0.9"/><path d="M954.15 334.20L956.75 330.15L951.55 330.15Z" fill="none" stroke="#5ae65a" stroke-width="0.9"/><path d="M956.54 333.92L959.14 329.86L953.94 329.86Z" fill="none" stroke="#5ae65a" stroke-width="0.9"/><path d="M958.93 335.17L961.53 331.11L956.33 331.11Z" fill="none" stroke="#5ae65a" stroke-width="0.9"/><path d="M961.32 334.53L963.92 330.47L958.72 330.47Z" fill="none" stroke="#5ae65a" stroke-width="0.9"/><path d="M963.71 334.94L966.31 330.88L961.11 330.88Z" fill="none" stroke="#5ae65a" stroke-width="0.9"/><path d="M966.10 336.10L968.70 332.04L963.50 332.04Z" fill="none" stroke="#5ae65a" stroke-width="0.9"/><path d="M968.50 335.17L971.10 331.12L965.89 331.12Z" fill="none" stroke="#5ae65a" stroke-width="0.9"/><path d="M970.89 335.84L973.49 331.79L968.29 331.79Z" fill="none" stroke="#5ae65a" stroke-width="0.9"/><path d="M973.28 336.77L975.88 332.72L970.68 332.72Z" fill="none" stroke="#5ae65a" stroke-width="0.9"/><path d="M975.68 334.95L978.28 330.89L973.08 330.89Z" fill="none" stroke="#5ae65a" stroke-width="0.9"/><path d="M978.08 334.95L980.68 330.90L975.48 330.90Z" fill="none" stroke="#5ae65a" stroke-width="0.9"/><path d="M980.47 335.45L983.07 331.40L977.87 331.40Z" fill="none" stroke="#5ae65a" stroke-width="0.9"/><path d="M982.87 336.84L985.47 332.78L980.26 332.78Z" fill="none" stroke="#5ae65a" stroke-width="0.9"/><path d="M985.26 336.58L987.86 332.53L982.66 332.53Z" fill="none" stroke="#5ae65a" stroke-width="0.9"/><path d="M987.65 335.77L990.25 331.72L985.05 331.72Z" fill="none" stroke="#5ae65a" stroke-width="0.9"/><path d="M990.05 336.10L992.65 332.04L987.45 332.04Z" fill="none" stroke="#5ae65a" stroke-width="0.9"/><path d="M992.45 335.83L995.05 331.77L989.85 331.77Z" fill="none" stroke="#5ae65a" stroke-width="0.9"/><path d="M994.84 336.61L997.44 332.55L992.24 332.55Z" fill="none" stroke="#5ae65a" stroke-width="0.9"/><path d="M997.24 335.71L999.84 331.65L994.63 331.65Z" fill="none" stroke="#5ae65a" stroke-width="0.9"/><path d="M999.63 337.38L1002.23 333.32L997.03 333.32Z" fill="none" stroke="#5ae65a" stroke-width="0.9"/><path d="M1002.02 337.95L1004.62 333.90L999.42 333.90Z" fill="none" stroke="#5ae65a" stroke-width="0.9"/><path d="M1004.42 338.20L1007.02 334.14L1001.82 334.14Z" fill="none" stroke="#5ae65a" stroke-width="0.9"/><path d="M1006.82 337.77L1009.42 333.71L1004.22 333.71Z" fill="none" stroke="#5ae65a" stroke-width="0.9"/><path d="M1009.21 338.41L1011.81 334.35L1006.61 334.35Z" fill="none" stroke="#5ae65a" stroke-width="0.9"/><path d="M1011.61 336.25L1014.21 332.19L1009.00 332.19Z" fill="none" stroke="#5ae65a" stroke-width="0.9"/></g><rect x="596.60" y="14.50" width="417.60" height="338.80" fill="none" stroke="#000" stroke-width="1.85"/><line x1="590.10" y1="336.90" x2="596.60" y2="336.90" stroke="#000" stroke-width="1.5"/><text x="585.3" y="340.60" text-anchor="end" style="font-family:'Liberation Sans',sans-serif;font-weight:bold;font-size:13.8px">0</text><line x1="593.10" y1="256.30" x2="596.60" y2="256.30" stroke="#000" stroke-width="1.5"/><line x1="590.10" y1="175.70" x2="596.60" y2="175.70" stroke="#000" stroke-width="1.5"/><text x="585.3" y="179.40" text-anchor="end" style="font-family:'Liberation Sans',sans-serif;font-weight:bold;font-size:13.8px">100</text><line x1="593.10" y1="95.10" x2="596.60" y2="95.10" stroke="#000" stroke-width="1.5"/><line x1="590.10" y1="14.50" x2="596.60" y2="14.50" stroke="#000" stroke-width="1.5"/><text x="585.3" y="18.20" text-anchor="end" style="font-family:'Liberation Sans',sans-serif;font-weight:bold;font-size:13.8px">200</text><line x1="596.60" y1="353.30" x2="596.60" y2="359.80" stroke="#000" stroke-width="1.5"/><text x="596.60" y="374.2" text-anchor="middle" style="font-family:'Liberation Sans',sans-serif;font-weight:bold;font-size:13.8px">0</text><line x1="668.71" y1="353.30" x2="668.71" y2="356.80" stroke="#000" stroke-width="1.5"/><line x1="740.82" y1="353.30" x2="740.82" y2="359.80" stroke="#000" stroke-width="1.5"/><text x="740.82" y="374.2" text-anchor="middle" style="font-family:'Liberation Sans',sans-serif;font-weight:bold;font-size:13.8px">200</text><line x1="812.93" y1="353.30" x2="812.93" y2="356.80" stroke="#000" stroke-width="1.5"/><line x1="885.04" y1="353.30" x2="885.04" y2="359.80" stroke="#000" stroke-width="1.5"/><text x="885.04" y="374.2" text-anchor="middle" style="font-family:'Liberation Sans',sans-serif;font-weight:bold;font-size:13.8px">400</text><line x1="957.15" y1="353.30" x2="957.15" y2="356.80" stroke="#000" stroke-width="1.5"/><text x="805.4" y="403.6" text-anchor="middle" style="font-family:'Liberation Sans',sans-serif;font-weight:bold;font-size:19px">Temperature (°C)</text><text transform="translate(551.3 196.3) rotate(-90)" text-anchor="middle" style="font-family:'Liberation Sans',sans-serif;font-weight:bold;font-size:19px">Deriv.Weight (%/°C)</text><text x="955.3" y="49.8" text-anchor="middle" style="font-family:'Liberation Sans',sans-serif;font-weight:bold;font-size:18.5px">B</text><rect x="617.2" y="23.6" width="212.9" height="66.8" fill="#fff" stroke="#000" stroke-width="1.2"/><line x1="619.1" y1="36.3" x2="649" y2="36.3" stroke="#111" stroke-width="1.5"/><rect x="632.20" y="35.00" width="2.6" height="2.6" fill="#fff" stroke="#555" stroke-width="0.9"/><text x="653.1" y="40.4" style="font-family:'Liberation Sans',sans-serif;font-weight:bold;font-size:11.55px">TONC</text><line x1="619.1" y1="50.1" x2="649" y2="50.1" stroke="#1515b5" stroke-width="1.5"/><circle cx="633.50" cy="50.10" r="1.8" fill="#fff" stroke="#4848dd" stroke-width="0.9"/><text x="653.1" y="54.2" style="font-family:'Liberation Sans',sans-serif;font-weight:bold;font-size:11.55px">TONC-g-PCL by esterification</text><line x1="619.1" y1="64.7" x2="649" y2="64.7" stroke="#e01818" stroke-width="1.5"/><path d="M633.50 61.30L636.50 66.10L630.50 66.10Z" fill="none" stroke="#e01010" stroke-width="1.2"/><text x="653.1" y="68.8" style="font-family:'Liberation Sans',sans-serif;font-weight:bold;font-size:11.55px">PCL</text><line x1="619.1" y1="79.0" x2="649" y2="79.0" stroke="#22dd22" stroke-width="1.5"/><path d="M633.50 82.40L636.50 77.60L630.50 77.60Z" fill="none" stroke="#20d020" stroke-width="1.2"/><text x="653.1" y="83.1" style="font-family:'Liberation Sans',sans-serif;font-weight:bold;font-size:11.55px">TONC-g-PCL by click</text></svg>
</body></html>
